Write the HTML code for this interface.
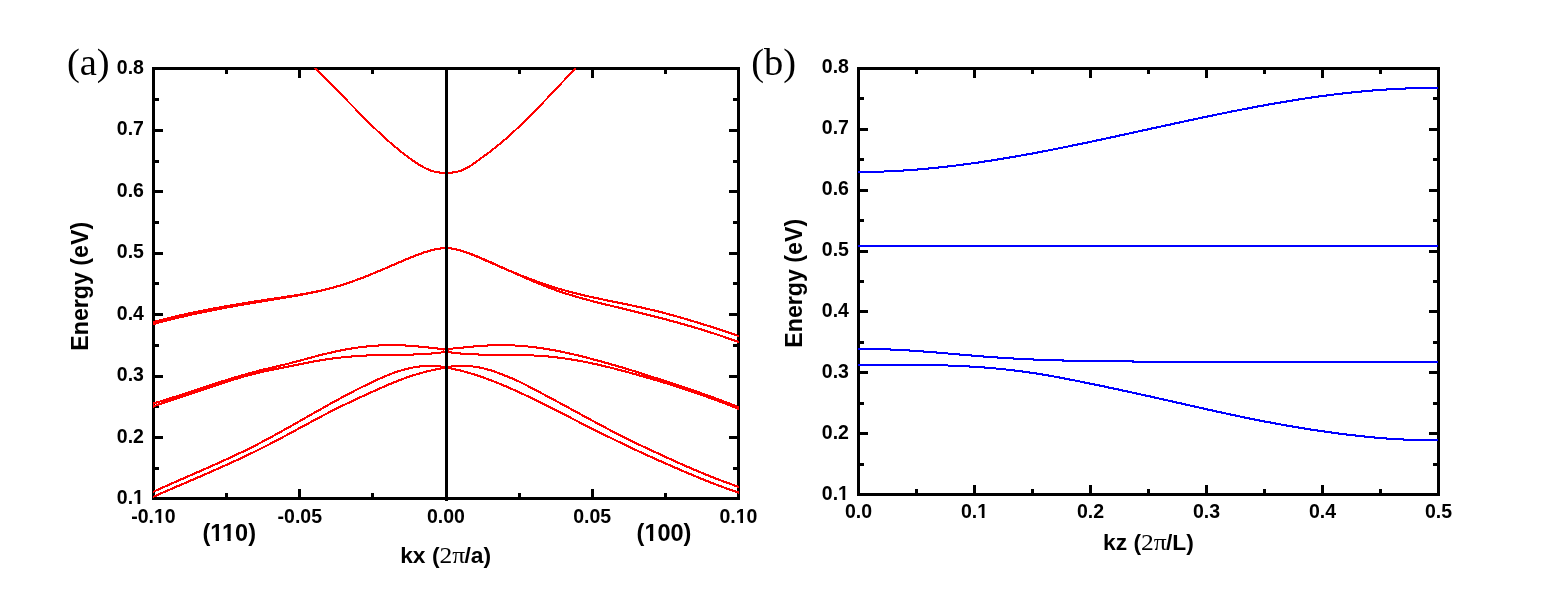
<!DOCTYPE html>
<html lang="en"><head><meta charset="utf-8"><title>Band structure</title>
<style>
html,body{margin:0;padding:0;background:#fff;}
body{width:1560px;height:601px;overflow:hidden;}
svg{display:block;}
.t{font-family:"Liberation Sans",sans-serif;font-weight:bold;fill:#000;}
.s{font-family:"Liberation Serif",serif;font-weight:normal;fill:#000;}
.tick{font-size:19.5px;}
.pl{font-size:38.5px;}
</style></head><body>
<svg width="1560" height="601" viewBox="0 0 1560 601">
<rect x="0" y="0" width="1560" height="601" fill="#ffffff"/>

<g id="axA" shape-rendering="crispEdges" fill="#000">
<rect x="152.0" y="67.0" width="588.0" height="3"/>
<rect x="152.0" y="497.0" width="588.0" height="3"/>
<rect x="152.0" y="67.0" width="3" height="433.0"/>
<rect x="737.0" y="67.0" width="3" height="433.0"/>
<rect x="298" y="70.0" width="3" height="8"/>
<rect x="298" y="489.0" width="3" height="8"/>
<rect x="445" y="70.0" width="3" height="8"/>
<rect x="445" y="489.0" width="3" height="8"/>
<rect x="591" y="70.0" width="3" height="8"/>
<rect x="591" y="489.0" width="3" height="8"/>
<rect x="225" y="70.0" width="3" height="4"/>
<rect x="225" y="493.0" width="3" height="4"/>
<rect x="371" y="70.0" width="3" height="4"/>
<rect x="371" y="493.0" width="3" height="4"/>
<rect x="518" y="70.0" width="3" height="4"/>
<rect x="518" y="493.0" width="3" height="4"/>
<rect x="664" y="70.0" width="3" height="4"/>
<rect x="664" y="493.0" width="3" height="4"/>
<rect x="155.0" y="98" width="4" height="3"/>
<rect x="733.0" y="98" width="4" height="3"/>
<rect x="155.0" y="129" width="8" height="3"/>
<rect x="729.0" y="129" width="8" height="3"/>
<rect x="155.0" y="160" width="4" height="3"/>
<rect x="733.0" y="160" width="4" height="3"/>
<rect x="155.0" y="190" width="8" height="3"/>
<rect x="729.0" y="190" width="8" height="3"/>
<rect x="155.0" y="221" width="4" height="3"/>
<rect x="733.0" y="221" width="4" height="3"/>
<rect x="155.0" y="252" width="8" height="3"/>
<rect x="729.0" y="252" width="8" height="3"/>
<rect x="155.0" y="282" width="4" height="3"/>
<rect x="733.0" y="282" width="4" height="3"/>
<rect x="155.0" y="313" width="8" height="3"/>
<rect x="729.0" y="313" width="8" height="3"/>
<rect x="155.0" y="344" width="4" height="3"/>
<rect x="733.0" y="344" width="4" height="3"/>
<rect x="155.0" y="375" width="8" height="3"/>
<rect x="729.0" y="375" width="8" height="3"/>
<rect x="155.0" y="405" width="4" height="3"/>
<rect x="733.0" y="405" width="4" height="3"/>
<rect x="155.0" y="436" width="8" height="3"/>
<rect x="729.0" y="436" width="8" height="3"/>
<rect x="155.0" y="467" width="4" height="3"/>
<rect x="733.0" y="467" width="4" height="3"/>
</g>
<clipPath id="clipA"><rect x="153" y="68" width="586" height="431"/></clipPath>
<g id="curvesA" clip-path="url(#clipA)" fill="#ff0000" stroke="none" shape-rendering="crispEdges">
<polygon points="310.0,61.72 313.0,64.62 315.0,66.55 317.0,68.50 319.0,70.47 321.0,72.45 323.0,74.45 325.0,76.46 327.0,78.48 329.0,80.51 331.0,82.55 333.0,84.59 335.0,86.65 337.0,88.71 339.0,90.77 341.1,92.84 343.1,94.91 345.1,96.98 347.1,99.04 349.1,101.11 351.1,103.18 353.1,105.24 355.1,107.29 357.1,109.34 359.1,111.38 361.1,113.41 363.1,115.44 365.1,117.45 367.1,119.45 369.1,121.43 371.1,123.41 373.1,125.36 375.1,127.30 377.1,129.22 379.1,131.12 381.1,133.00 383.1,134.86 385.1,136.70 387.1,138.51 389.1,140.30 391.1,142.07 393.2,143.81 395.2,145.52 397.2,147.21 399.2,148.86 401.2,150.49 403.2,152.08 405.2,153.64 407.2,155.17 409.2,156.66 411.2,158.12 413.2,159.54 415.2,160.92 417.2,162.25 419.2,163.52 421.2,164.73 423.2,165.88 425.2,166.95 427.2,167.93 429.2,168.81 431.2,169.57 433.2,170.20 435.2,170.71 437.2,171.11 439.2,171.41 441.2,171.62 443.2,171.75 445.2,171.82 447.3,171.81 449.3,171.72 451.3,171.57 453.3,171.33 455.3,171.00 457.3,170.57 459.3,170.02 461.3,169.35 463.3,168.55 465.3,167.60 467.3,166.51 469.3,165.30 471.3,164.00 473.3,162.62 475.3,161.18 477.3,159.72 479.3,158.25 481.3,156.79 483.3,155.34 485.3,153.88 487.3,152.41 489.3,150.91 491.3,149.38 493.3,147.82 495.3,146.22 497.3,144.59 499.4,142.94 501.4,141.25 503.4,139.54 505.4,137.80 507.4,136.04 509.4,134.25 511.4,132.43 513.4,130.60 515.4,128.74 517.4,126.85 519.4,124.95 521.4,123.03 523.4,121.09 525.4,119.13 527.4,117.15 529.4,115.16 531.4,113.15 533.4,111.12 535.4,109.09 537.4,107.03 539.4,104.97 541.4,102.90 543.4,100.81 545.4,98.72 547.4,96.61 549.4,94.50 551.5,92.38 553.5,90.26 555.5,88.13 557.5,85.99 559.5,83.85 561.5,81.71 563.5,79.57 565.5,77.42 567.5,75.28 569.5,73.14 571.5,70.99 573.5,68.85 575.5,66.72 577.5,64.58 580.5,61.39 580.5,64.24 577.5,67.44 575.5,69.57 573.5,71.71 571.5,73.85 569.5,75.99 567.5,78.14 565.5,80.28 563.5,82.42 561.5,84.57 559.5,86.71 557.5,88.84 555.5,90.98 553.5,93.11 551.5,95.23 549.4,97.34 547.4,99.45 545.4,101.55 543.4,103.64 541.4,105.73 539.4,107.80 537.4,109.85 535.4,111.90 533.4,113.93 531.4,115.95 529.4,117.95 527.4,119.94 525.4,121.91 523.4,123.86 521.4,125.80 519.4,127.71 517.4,129.61 515.4,131.48 513.4,133.33 511.4,135.16 509.4,136.96 507.4,138.74 505.4,140.50 503.4,142.23 501.4,143.93 499.4,145.60 497.3,147.25 495.3,148.86 493.3,150.44 491.3,152.00 489.3,153.52 487.3,155.00 485.3,156.47 483.3,157.92 481.3,159.37 479.3,160.83 477.3,162.30 475.3,163.76 473.3,165.17 471.3,166.53 469.3,167.80 467.3,168.96 465.3,170.00 463.3,170.89 461.3,171.64 459.3,172.26 457.3,172.76 455.3,173.15 453.3,173.44 451.3,173.64 449.3,173.77 447.3,173.82 445.2,173.83 443.2,173.79 441.2,173.68 439.2,173.50 437.2,173.24 435.2,172.88 433.2,172.41 431.2,171.83 429.2,171.13 427.2,170.29 425.2,169.35 423.2,168.31 421.2,167.20 419.2,166.01 417.2,164.76 415.2,163.45 413.2,162.10 411.2,160.70 409.2,159.25 407.2,157.77 405.2,156.26 403.2,154.71 401.2,153.13 399.2,151.51 397.2,149.87 395.2,148.20 393.2,146.50 391.1,144.77 389.1,143.01 387.1,141.23 385.1,139.43 383.1,137.60 381.1,135.75 379.1,133.87 377.1,131.98 375.1,130.07 373.1,128.14 371.1,126.19 369.1,124.22 367.1,122.24 365.1,120.25 363.1,118.24 361.1,116.22 359.1,114.19 357.1,112.16 355.1,110.11 353.1,108.06 351.1,106.00 349.1,103.94 347.1,101.87 345.1,99.80 343.1,97.73 341.1,95.66 339.0,93.60 337.0,91.53 335.0,89.47 333.0,87.41 331.0,85.36 329.0,83.32 327.0,81.29 325.0,79.26 323.0,77.25 321.0,75.25 319.0,73.26 317.0,71.29 315.0,69.33 313.0,67.39 310.0,64.49"/>
<polygon points="150.5,321.69 153.5,320.89 155.5,320.36 157.5,319.83 159.5,319.32 161.5,318.80 163.5,318.30 165.5,317.80 167.5,317.30 169.5,316.82 171.5,316.34 173.5,315.86 175.5,315.39 177.5,314.92 179.5,314.46 181.5,314.01 183.6,313.56 185.6,313.12 187.6,312.68 189.6,312.25 191.6,311.82 193.6,311.40 195.6,310.98 197.6,310.57 199.6,310.16 201.6,309.75 203.6,309.35 205.6,308.96 207.6,308.57 209.6,308.18 211.6,307.80 213.6,307.42 215.6,307.05 217.6,306.68 219.6,306.31 221.6,305.95 223.6,305.59 225.6,305.23 227.6,304.88 229.6,304.53 231.6,304.18 233.6,303.84 235.6,303.50 237.6,303.16 239.6,302.83 241.7,302.50 243.7,302.17 245.7,301.85 247.7,301.52 249.7,301.20 251.7,300.89 253.7,300.57 255.7,300.26 257.7,299.95 259.7,299.64 261.7,299.33 263.7,299.03 265.7,298.72 267.7,298.42 269.7,298.12 271.7,297.82 273.7,297.52 275.7,297.23 277.7,296.93 279.7,296.64 281.7,296.34 283.7,296.04 285.7,295.74 287.7,295.43 289.7,295.12 291.7,294.81 293.7,294.49 295.7,294.17 297.7,293.84 299.8,293.51 301.8,293.17 303.8,292.82 305.8,292.46 307.8,292.09 309.8,291.71 311.8,291.33 313.8,290.93 315.8,290.52 317.8,290.10 319.8,289.66 321.8,289.22 323.8,288.76 325.8,288.28 327.8,287.79 329.8,287.28 331.8,286.76 333.8,286.22 335.8,285.66 337.8,285.09 339.8,284.49 341.8,283.88 343.8,283.25 345.8,282.60 347.8,281.93 349.8,281.25 351.8,280.54 353.8,279.83 355.8,279.10 357.8,278.35 359.9,277.60 361.9,276.83 363.9,276.05 365.9,275.26 367.9,274.45 369.9,273.64 371.9,272.82 373.9,272.00 375.9,271.16 377.9,270.32 379.9,269.48 381.9,268.62 383.9,267.77 385.9,266.91 387.9,266.05 389.9,265.19 391.9,264.33 393.9,263.46 395.9,262.60 397.9,261.74 399.9,260.88 401.9,260.02 403.9,259.17 405.9,258.32 407.9,257.48 409.9,256.65 411.9,255.84 413.9,255.04 415.9,254.26 418.0,253.50 420.0,252.77 422.0,252.07 424.0,251.40 426.0,250.77 428.0,250.17 430.0,249.62 432.0,249.10 434.0,248.63 436.0,248.22 438.0,247.85 440.0,247.54 442.0,247.28 444.0,247.09 446.0,246.95 449.0,246.74 449.0,248.80 446.0,249.01 444.0,249.16 442.0,249.38 440.0,249.65 438.0,249.99 436.0,250.38 434.0,250.82 432.0,251.30 430.0,251.83 428.0,252.41 426.0,253.02 424.0,253.67 422.0,254.35 420.0,255.06 418.0,255.80 415.9,256.57 413.9,257.35 411.9,258.16 409.9,258.98 407.9,259.81 405.9,260.66 403.9,261.51 401.9,262.36 399.9,263.22 397.9,264.08 395.9,264.94 393.9,265.81 391.9,266.67 389.9,267.53 387.9,268.40 385.9,269.25 383.9,270.11 381.9,270.96 379.9,271.81 377.9,272.66 375.9,273.50 373.9,274.33 371.9,275.15 369.9,275.97 367.9,276.77 365.9,277.57 363.9,278.36 361.9,279.14 359.9,279.90 357.8,280.65 355.8,281.39 353.8,282.12 351.8,282.83 349.8,283.52 347.8,284.20 345.8,284.86 343.8,285.50 341.8,286.13 339.8,286.73 337.8,287.32 335.8,287.89 333.8,288.44 331.8,288.97 329.8,289.49 327.8,289.99 325.8,290.47 323.8,290.94 321.8,291.40 319.8,291.84 317.8,292.27 315.8,292.68 313.8,293.09 311.8,293.48 309.8,293.87 307.8,294.24 305.8,294.60 303.8,294.96 301.8,295.30 299.8,295.64 297.7,295.97 295.7,296.30 293.7,296.62 291.7,296.94 289.7,297.25 287.7,297.55 285.7,297.86 283.7,298.16 281.7,298.46 279.7,298.75 277.7,299.05 275.7,299.35 273.7,299.64 271.7,299.94 269.7,300.24 267.7,300.54 265.7,300.84 263.7,301.15 261.7,301.45 259.7,301.76 257.7,302.07 255.7,302.38 253.7,302.70 251.7,303.01 249.7,303.33 247.7,303.65 245.7,303.98 243.7,304.30 241.7,304.63 239.6,304.96 237.6,305.30 235.6,305.64 233.6,305.98 231.6,306.32 229.6,306.67 227.6,307.02 225.6,307.37 223.6,307.73 221.6,308.09 219.6,308.45 217.6,308.82 215.6,309.20 213.6,309.57 211.6,309.95 209.6,310.34 207.6,310.72 205.6,311.12 203.6,311.51 201.6,311.91 199.6,312.32 197.6,312.73 195.6,313.15 193.6,313.57 191.6,313.99 189.6,314.42 187.6,314.86 185.6,315.30 183.6,315.74 181.5,316.19 179.5,316.65 177.5,317.11 175.5,317.58 173.5,318.05 171.5,318.53 169.5,319.01 167.5,319.50 165.5,320.00 163.5,320.50 161.5,321.01 159.5,321.52 157.5,322.04 155.5,322.57 153.5,323.10 150.5,323.90"/>
<polygon points="150.5,323.71 153.5,322.89 155.5,322.34 157.5,321.80 159.5,321.26 161.5,320.73 163.5,320.21 165.5,319.69 167.5,319.18 169.5,318.68 171.5,318.18 173.5,317.69 175.5,317.21 177.5,316.73 179.5,316.25 181.5,315.78 183.6,315.32 185.6,314.86 187.6,314.41 189.6,313.96 191.6,313.52 193.6,313.08 195.6,312.65 197.6,312.22 199.6,311.80 201.6,311.38 203.6,310.97 205.6,310.56 207.6,310.15 209.6,309.75 211.6,309.35 213.6,308.96 215.6,308.57 217.6,308.18 219.6,307.80 221.6,307.42 223.6,307.04 225.6,306.67 227.6,306.30 229.6,305.93 231.6,305.57 233.6,305.21 235.6,304.85 237.6,304.50 239.6,304.14 241.7,303.79 243.7,303.44 245.7,303.10 247.7,302.75 249.7,302.41 251.7,302.07 253.7,301.73 255.7,301.39 257.7,301.06 259.7,300.72 261.7,300.39 263.7,300.06 265.7,299.73 267.7,299.40 269.7,299.07 271.7,298.74 273.7,298.42 275.7,298.09 277.7,297.76 279.7,297.43 281.7,297.10 283.7,296.77 285.7,296.44 287.7,296.10 289.7,295.76 291.7,295.41 293.7,295.06 295.7,294.71 297.7,294.35 299.8,293.98 301.8,293.61 303.8,293.22 305.8,292.83 307.8,292.44 309.8,292.03 311.8,291.61 313.8,291.19 315.8,290.75 317.8,290.30 319.8,289.84 321.8,289.37 323.8,288.89 325.8,288.39 327.8,287.88 329.8,287.35 331.8,286.81 333.8,286.26 335.8,285.69 337.8,285.10 339.8,284.49 341.8,283.87 343.8,283.23 345.8,282.58 347.8,281.90 349.8,281.22 351.8,280.52 353.8,279.80 355.8,279.07 357.8,278.33 359.9,277.58 361.9,276.81 363.9,276.04 365.9,275.25 367.9,274.45 369.9,273.65 371.9,272.84 373.9,272.01 375.9,271.19 377.9,270.35 379.9,269.51 381.9,268.67 383.9,267.82 385.9,266.96 387.9,266.11 389.9,265.25 391.9,264.38 393.9,263.52 395.9,262.66 397.9,261.79 399.9,260.93 401.9,260.07 403.9,259.20 405.9,258.35 407.9,257.50 409.9,256.66 411.9,255.83 413.9,255.02 415.9,254.23 418.0,253.46 420.0,252.72 422.0,252.01 424.0,251.33 426.0,250.69 428.0,250.09 430.0,249.53 432.0,249.02 434.0,248.55 436.0,248.14 438.0,247.78 440.0,247.48 442.0,247.24 444.0,247.07 446.0,246.96 449.0,246.79 449.0,248.84 446.0,249.01 444.0,249.13 442.0,249.33 440.0,249.59 438.0,249.92 436.0,250.30 434.0,250.73 432.0,251.22 430.0,251.75 428.0,252.33 426.0,252.94 424.0,253.60 422.0,254.29 420.0,255.02 418.0,255.77 415.9,256.54 413.9,257.34 411.9,258.16 409.9,258.99 407.9,259.84 405.9,260.69 403.9,261.55 401.9,262.41 399.9,263.27 397.9,264.14 395.9,265.00 393.9,265.87 391.9,266.73 389.9,267.59 387.9,268.45 385.9,269.30 383.9,270.16 381.9,271.00 379.9,271.85 377.9,272.69 375.9,273.52 373.9,274.34 371.9,275.16 369.9,275.97 367.9,276.77 365.9,277.56 363.9,278.35 361.9,279.12 359.9,279.88 357.8,280.63 355.8,281.36 353.8,282.09 351.8,282.80 349.8,283.49 347.8,284.17 345.8,284.84 343.8,285.49 341.8,286.12 339.8,286.74 337.8,287.33 335.8,287.92 333.8,288.48 331.8,289.03 329.8,289.56 327.8,290.08 325.8,290.59 323.8,291.08 321.8,291.56 319.8,292.03 317.8,292.48 315.8,292.93 313.8,293.36 311.8,293.78 309.8,294.19 307.8,294.60 305.8,294.99 303.8,295.38 301.8,295.76 299.8,296.13 297.7,296.49 295.7,296.85 293.7,297.20 291.7,297.55 289.7,297.90 287.7,298.24 285.7,298.57 283.7,298.91 281.7,299.24 279.7,299.57 277.7,299.89 275.7,300.22 273.7,300.55 271.7,300.88 269.7,301.20 267.7,301.53 265.7,301.86 263.7,302.19 261.7,302.52 259.7,302.86 257.7,303.19 255.7,303.53 253.7,303.87 251.7,304.21 249.7,304.55 247.7,304.89 245.7,305.24 243.7,305.58 241.7,305.93 239.6,306.28 237.6,306.64 235.6,306.99 233.6,307.35 231.6,307.72 229.6,308.08 227.6,308.45 225.6,308.82 223.6,309.19 221.6,309.57 219.6,309.95 217.6,310.34 215.6,310.72 213.6,311.12 211.6,311.51 209.6,311.91 207.6,312.31 205.6,312.72 203.6,313.13 201.6,313.55 199.6,313.97 197.6,314.39 195.6,314.82 193.6,315.26 191.6,315.70 189.6,316.14 187.6,316.59 185.6,317.05 183.6,317.51 181.5,317.97 179.5,318.44 177.5,318.92 175.5,319.40 173.5,319.89 171.5,320.38 169.5,320.88 167.5,321.39 165.5,321.90 163.5,322.42 161.5,322.94 159.5,323.47 157.5,324.01 155.5,324.56 153.5,325.11 150.5,325.93"/>
<polygon points="443.0,246.84 446.0,246.97 448.0,247.04 450.0,247.20 452.0,247.45 454.0,247.77 456.0,248.17 458.0,248.63 460.0,249.16 462.0,249.75 464.0,250.39 466.0,251.08 468.0,251.82 470.0,252.58 472.0,253.39 474.0,254.21 476.1,255.06 478.1,255.93 480.1,256.80 482.1,257.68 484.1,258.56 486.1,259.45 488.1,260.32 490.1,261.20 492.1,262.08 494.1,262.95 496.1,263.83 498.1,264.70 500.1,265.56 502.1,266.42 504.1,267.28 506.1,268.13 508.1,268.98 510.1,269.83 512.1,270.66 514.1,271.50 516.1,272.32 518.1,273.14 520.1,273.95 522.1,274.75 524.1,275.55 526.1,276.34 528.1,277.11 530.1,277.88 532.1,278.64 534.2,279.39 536.2,280.13 538.2,280.86 540.2,281.58 542.2,282.28 544.2,282.98 546.2,283.66 548.2,284.33 550.2,284.98 552.2,285.62 554.2,286.25 556.2,286.87 558.2,287.47 560.2,288.06 562.2,288.63 564.2,289.20 566.2,289.75 568.2,290.30 570.2,290.83 572.2,291.35 574.2,291.86 576.2,292.37 578.2,292.86 580.2,293.35 582.2,293.82 584.2,294.29 586.2,294.76 588.2,295.22 590.2,295.67 592.2,296.11 594.3,296.55 596.3,296.99 598.3,297.42 600.3,297.84 602.3,298.27 604.3,298.69 606.3,299.10 608.3,299.52 610.3,299.93 612.3,300.34 614.3,300.76 616.3,301.17 618.3,301.58 620.3,301.99 622.3,302.40 624.3,302.81 626.3,303.23 628.3,303.64 630.3,304.06 632.3,304.49 634.3,304.91 636.3,305.34 638.3,305.77 640.3,306.21 642.3,306.66 644.3,307.11 646.3,307.56 648.3,308.02 650.3,308.49 652.4,308.97 654.4,309.45 656.4,309.94 658.4,310.44 660.4,310.94 662.4,311.45 664.4,311.97 666.4,312.50 668.4,313.03 670.4,313.56 672.4,314.11 674.4,314.66 676.4,315.21 678.4,315.77 680.4,316.34 682.4,316.92 684.4,317.49 686.4,318.08 688.4,318.67 690.4,319.26 692.4,319.86 694.4,320.47 696.4,321.08 698.4,321.69 700.4,322.31 702.4,322.94 704.4,323.57 706.4,324.20 708.4,324.84 710.5,325.48 712.5,326.13 714.5,326.78 716.5,327.43 718.5,328.09 720.5,328.75 722.5,329.42 724.5,330.09 726.5,330.76 728.5,331.44 730.5,332.11 732.5,332.80 734.5,333.48 736.5,334.17 738.5,334.86 741.5,335.89 741.5,338.17 738.5,337.13 736.5,336.44 734.5,335.75 732.5,335.07 730.5,334.39 728.5,333.71 726.5,333.03 724.5,332.36 722.5,331.69 720.5,331.02 718.5,330.36 716.5,329.70 714.5,329.04 712.5,328.39 710.5,327.74 708.4,327.10 706.4,326.46 704.4,325.82 702.4,325.19 700.4,324.56 698.4,323.94 696.4,323.32 694.4,322.71 692.4,322.10 690.4,321.50 688.4,320.91 686.4,320.31 684.4,319.73 682.4,319.15 680.4,318.57 678.4,318.00 676.4,317.44 674.4,316.88 672.4,316.33 670.4,315.78 668.4,315.24 666.4,314.71 664.4,314.18 662.4,313.66 660.4,313.15 658.4,312.64 656.4,312.14 654.4,311.65 652.4,311.16 650.3,310.68 648.3,310.21 646.3,309.74 644.3,309.29 642.3,308.84 640.3,308.39 638.3,307.95 636.3,307.51 634.3,307.08 632.3,306.65 630.3,306.23 628.3,305.81 626.3,305.39 624.3,304.98 622.3,304.56 620.3,304.15 618.3,303.74 616.3,303.33 614.3,302.92 612.3,302.51 610.3,302.10 608.3,301.68 606.3,301.27 604.3,300.85 602.3,300.44 600.3,300.01 598.3,299.59 596.3,299.16 594.3,298.73 592.2,298.29 590.2,297.84 588.2,297.40 586.2,296.94 584.2,296.48 582.2,296.01 580.2,295.54 578.2,295.05 576.2,294.56 574.2,294.06 572.2,293.56 570.2,293.04 568.2,292.51 566.2,291.97 564.2,291.42 562.2,290.86 560.2,290.29 558.2,289.71 556.2,289.11 554.2,288.50 552.2,287.88 550.2,287.24 548.2,286.59 546.2,285.93 544.2,285.25 542.2,284.56 540.2,283.86 538.2,283.15 536.2,282.42 534.2,281.69 532.1,280.94 530.1,280.19 528.1,279.42 526.1,278.65 524.1,277.86 522.1,277.07 520.1,276.27 518.1,275.46 516.1,274.65 514.1,273.83 512.1,273.00 510.1,272.16 508.1,271.32 506.1,270.47 504.1,269.62 502.1,268.77 500.1,267.91 498.1,267.04 496.1,266.17 494.1,265.30 492.1,264.43 490.1,263.55 488.1,262.68 486.1,261.80 484.1,260.92 482.1,260.04 480.1,259.15 478.1,258.28 476.1,257.41 474.0,256.55 472.0,255.71 470.0,254.90 468.0,254.12 466.0,253.37 464.0,252.66 462.0,252.00 460.0,251.39 458.0,250.84 456.0,250.34 454.0,249.92 452.0,249.56 450.0,249.29 448.0,249.10 446.0,249.00 443.0,248.87"/>
<polygon points="443.0,246.75 446.0,246.96 448.0,247.09 450.0,247.28 452.0,247.55 454.0,247.88 456.0,248.28 458.0,248.73 460.0,249.24 462.0,249.80 464.0,250.41 466.0,251.06 468.0,251.75 470.0,252.47 472.0,253.23 474.0,254.01 476.1,254.82 478.1,255.65 480.1,256.49 482.1,257.35 484.1,258.21 486.1,259.08 488.1,259.96 490.1,260.85 492.1,261.74 494.1,262.63 496.1,263.53 498.1,264.43 500.1,265.34 502.1,266.24 504.1,267.15 506.1,268.06 508.1,268.97 510.1,269.88 512.1,270.79 514.1,271.69 516.1,272.60 518.1,273.50 520.1,274.39 522.1,275.29 524.1,276.17 526.1,277.05 528.1,277.93 530.1,278.80 532.1,279.66 534.2,280.51 536.2,281.35 538.2,282.18 540.2,283.00 542.2,283.81 544.2,284.61 546.2,285.40 548.2,286.17 550.2,286.93 552.2,287.68 554.2,288.41 556.2,289.12 558.2,289.82 560.2,290.51 562.2,291.19 564.2,291.85 566.2,292.49 568.2,293.13 570.2,293.75 572.2,294.37 574.2,294.97 576.2,295.56 578.2,296.15 580.2,296.72 582.2,297.28 584.2,297.84 586.2,298.39 588.2,298.93 590.2,299.46 592.2,299.99 594.3,300.51 596.3,301.02 598.3,301.53 600.3,302.04 602.3,302.54 604.3,303.03 606.3,303.53 608.3,304.02 610.3,304.50 612.3,304.99 614.3,305.47 616.3,305.95 618.3,306.43 620.3,306.92 622.3,307.40 624.3,307.88 626.3,308.36 628.3,308.85 630.3,309.33 632.3,309.82 634.3,310.31 636.3,310.80 638.3,311.29 640.3,311.79 642.3,312.28 644.3,312.78 646.3,313.28 648.3,313.79 650.3,314.29 652.4,314.80 654.4,315.32 656.4,315.83 658.4,316.35 660.4,316.87 662.4,317.40 664.4,317.92 666.4,318.46 668.4,318.99 670.4,319.53 672.4,320.07 674.4,320.62 676.4,321.17 678.4,321.72 680.4,322.28 682.4,322.85 684.4,323.41 686.4,323.99 688.4,324.56 690.4,325.15 692.4,325.73 694.4,326.33 696.4,326.92 698.4,327.53 700.4,328.13 702.4,328.75 704.4,329.37 706.4,329.99 708.4,330.62 710.5,331.26 712.5,331.90 714.5,332.55 716.5,333.20 718.5,333.86 720.5,334.53 722.5,335.21 724.5,335.89 726.5,336.57 728.5,337.27 730.5,337.97 732.5,338.68 734.5,339.40 736.5,340.12 738.5,340.85 741.5,341.95 741.5,344.24 738.5,343.14 736.5,342.41 734.5,341.68 732.5,340.97 730.5,340.25 728.5,339.55 726.5,338.85 724.5,338.16 722.5,337.48 720.5,336.80 718.5,336.13 716.5,335.47 714.5,334.81 712.5,334.16 710.5,333.51 708.4,332.87 706.4,332.24 704.4,331.61 702.4,330.99 700.4,330.38 698.4,329.77 696.4,329.16 694.4,328.56 692.4,327.97 690.4,327.38 688.4,326.80 686.4,326.22 684.4,325.64 682.4,325.07 680.4,324.51 678.4,323.95 676.4,323.39 674.4,322.84 672.4,322.29 670.4,321.75 668.4,321.21 666.4,320.67 664.4,320.14 662.4,319.61 660.4,319.08 658.4,318.56 656.4,318.04 654.4,317.52 652.4,317.01 650.3,316.50 648.3,315.99 646.3,315.48 644.3,314.98 642.3,314.48 640.3,313.98 638.3,313.49 636.3,312.99 634.3,312.50 632.3,312.01 630.3,311.53 628.3,311.04 626.3,310.55 624.3,310.07 622.3,309.59 620.3,309.11 618.3,308.63 616.3,308.15 614.3,307.66 612.3,307.18 610.3,306.70 608.3,306.21 606.3,305.72 604.3,305.23 602.3,304.74 600.3,304.24 598.3,303.73 596.3,303.23 594.3,302.71 592.2,302.20 590.2,301.67 588.2,301.14 586.2,300.60 584.2,300.06 582.2,299.51 580.2,298.95 578.2,298.38 576.2,297.80 574.2,297.21 572.2,296.61 570.2,296.00 568.2,295.38 566.2,294.75 564.2,294.11 562.2,293.45 560.2,292.78 558.2,292.10 556.2,291.40 554.2,290.70 552.2,289.97 550.2,289.23 548.2,288.48 546.2,287.71 544.2,286.93 542.2,286.14 540.2,285.33 538.2,284.51 536.2,283.68 534.2,282.85 532.1,282.00 530.1,281.14 528.1,280.28 526.1,279.40 524.1,278.53 522.1,277.64 520.1,276.75 518.1,275.86 516.1,274.96 514.1,274.06 512.1,273.15 510.1,272.24 508.1,271.33 506.1,270.42 504.1,269.51 502.1,268.61 500.1,267.70 498.1,266.79 496.1,265.89 494.1,264.99 492.1,264.09 490.1,263.20 488.1,262.31 486.1,261.43 484.1,260.56 482.1,259.69 480.1,258.83 478.1,257.98 476.1,257.15 474.0,256.33 472.0,255.54 470.0,254.77 468.0,254.03 466.0,253.33 464.0,252.66 462.0,252.04 460.0,251.46 458.0,250.93 456.0,250.45 454.0,250.03 452.0,249.67 450.0,249.38 448.0,249.16 446.0,249.01 443.0,248.81"/>
<polygon points="150.5,403.16 153.5,402.29 155.5,401.71 157.5,401.12 159.5,400.52 161.5,399.92 163.5,399.31 165.5,398.69 167.5,398.07 169.5,397.45 171.5,396.82 173.5,396.18 175.5,395.54 177.5,394.90 179.5,394.25 181.5,393.60 183.6,392.95 185.6,392.30 187.6,391.64 189.6,390.98 191.6,390.32 193.6,389.66 195.6,388.99 197.6,388.33 199.6,387.67 201.6,387.01 203.6,386.34 205.6,385.68 207.6,385.02 209.6,384.37 211.6,383.71 213.6,383.06 215.6,382.40 217.6,381.76 219.6,381.11 221.6,380.47 223.6,379.83 225.6,379.20 227.6,378.57 229.6,377.95 231.6,377.33 233.6,376.72 235.6,376.11 237.6,375.51 239.6,374.92 241.7,374.33 243.7,373.76 245.7,373.18 247.7,372.62 249.7,372.07 251.7,371.52 253.7,370.99 255.7,370.46 257.7,369.94 259.7,369.44 261.7,368.94 263.7,368.45 265.7,367.97 267.7,367.49 269.7,367.02 271.7,366.55 273.7,366.08 275.7,365.61 277.7,365.14 279.7,364.67 281.7,364.20 283.7,363.72 285.7,363.23 287.7,362.73 289.7,362.23 291.7,361.71 293.7,361.18 295.7,360.64 297.7,360.10 299.8,359.54 301.8,358.99 303.8,358.43 305.8,357.87 307.8,357.32 309.8,356.78 311.8,356.24 313.8,355.71 315.8,355.19 317.8,354.67 319.8,354.17 321.8,353.67 323.8,353.17 325.8,352.69 327.8,352.22 329.8,351.75 331.8,351.30 333.8,350.85 335.8,350.42 337.8,349.99 339.8,349.58 341.8,349.18 343.8,348.79 345.8,348.42 347.8,348.06 349.8,347.71 351.8,347.38 353.8,347.06 355.8,346.76 357.8,346.47 359.9,346.20 361.9,345.94 363.9,345.70 365.9,345.48 367.9,345.28 369.9,345.09 371.9,344.92 373.9,344.77 375.9,344.64 377.9,344.52 379.9,344.42 381.9,344.34 383.9,344.27 385.9,344.22 387.9,344.18 389.9,344.17 391.9,344.16 393.9,344.17 395.9,344.19 397.9,344.23 399.9,344.28 401.9,344.34 403.9,344.43 405.9,344.52 407.9,344.63 409.9,344.75 411.9,344.89 413.9,345.04 415.9,345.21 418.0,345.39 420.0,345.58 422.0,345.78 424.0,345.99 426.0,346.21 428.0,346.43 430.0,346.65 432.0,346.87 434.0,347.08 436.0,347.28 438.0,347.47 440.0,347.65 442.0,347.81 444.0,347.94 446.0,348.05 449.0,348.21 449.0,350.26 446.0,350.09 444.0,349.99 442.0,349.86 440.0,349.71 438.0,349.55 436.0,349.36 434.0,349.16 432.0,348.96 430.0,348.74 428.0,348.52 426.0,348.30 424.0,348.08 422.0,347.87 420.0,347.66 418.0,347.46 415.9,347.28 413.9,347.11 411.9,346.95 409.9,346.81 407.9,346.68 405.9,346.56 403.9,346.46 401.9,346.37 399.9,346.30 397.9,346.24 395.9,346.20 393.9,346.17 391.9,346.16 389.9,346.17 387.9,346.20 385.9,346.24 383.9,346.30 381.9,346.37 379.9,346.46 377.9,346.57 375.9,346.69 373.9,346.83 371.9,346.99 369.9,347.16 367.9,347.36 365.9,347.57 363.9,347.79 361.9,348.04 359.9,348.30 357.8,348.58 355.8,348.87 353.8,349.18 351.8,349.51 349.8,349.85 347.8,350.20 345.8,350.57 343.8,350.95 341.8,351.34 339.8,351.74 337.8,352.16 335.8,352.59 333.8,353.03 331.8,353.48 329.8,353.94 327.8,354.40 325.8,354.88 323.8,355.37 321.8,355.86 319.8,356.37 317.8,356.88 315.8,357.40 313.8,357.92 311.8,358.46 309.8,359.00 307.8,359.54 305.8,360.09 303.8,360.65 301.8,361.21 299.8,361.76 297.7,362.32 295.7,362.86 293.7,363.40 291.7,363.92 289.7,364.43 287.7,364.93 285.7,365.42 283.7,365.91 281.7,366.39 279.7,366.86 277.7,367.33 275.7,367.80 273.7,368.27 271.7,368.74 269.7,369.21 267.7,369.68 265.7,370.16 263.7,370.64 261.7,371.14 259.7,371.64 257.7,372.15 255.7,372.67 253.7,373.20 251.7,373.74 249.7,374.29 247.7,374.85 245.7,375.41 243.7,375.99 241.7,376.57 239.6,377.16 237.6,377.75 235.6,378.35 233.6,378.96 231.6,379.58 229.6,380.20 227.6,380.82 225.6,381.45 223.6,382.09 221.6,382.73 219.6,383.37 217.6,384.01 215.6,384.66 213.6,385.32 211.6,385.97 209.6,386.63 207.6,387.29 205.6,387.95 203.6,388.61 201.6,389.27 199.6,389.93 197.6,390.60 195.6,391.26 193.6,391.92 191.6,392.58 189.6,393.24 187.6,393.90 185.6,394.56 183.6,395.21 181.5,395.86 179.5,396.51 177.5,397.16 175.5,397.80 173.5,398.44 171.5,399.07 169.5,399.70 167.5,400.32 165.5,400.94 163.5,401.55 161.5,402.16 159.5,402.76 157.5,403.35 155.5,403.94 153.5,404.52 150.5,405.39"/>
<polygon points="150.5,406.37 153.5,405.25 155.5,404.50 157.5,403.77 159.5,403.05 161.5,402.35 163.5,401.65 165.5,400.96 167.5,400.28 169.5,399.61 171.5,398.95 173.5,398.29 175.5,397.63 177.5,396.98 179.5,396.34 181.5,395.69 183.6,395.04 185.6,394.40 187.6,393.75 189.6,393.10 191.6,392.45 193.6,391.79 195.6,391.13 197.6,390.47 199.6,389.80 201.6,389.13 203.6,388.46 205.6,387.78 207.6,387.10 209.6,386.43 211.6,385.75 213.6,385.08 215.6,384.40 217.6,383.73 219.6,383.07 221.6,382.40 223.6,381.74 225.6,381.09 227.6,380.44 229.6,379.79 231.6,379.15 233.6,378.53 235.6,377.90 237.6,377.29 239.6,376.69 241.7,376.09 243.7,375.51 245.7,374.94 247.7,374.38 249.7,373.83 251.7,373.30 253.7,372.78 255.7,372.27 257.7,371.78 259.7,371.31 261.7,370.85 263.7,370.40 265.7,369.97 267.7,369.55 269.7,369.14 271.7,368.73 273.7,368.33 275.7,367.94 277.7,367.55 279.7,367.17 281.7,366.78 283.7,366.40 285.7,366.01 287.7,365.62 289.7,365.23 291.7,364.83 293.7,364.43 295.7,364.02 297.7,363.62 299.8,363.21 301.8,362.80 303.8,362.40 305.8,362.00 307.8,361.60 309.8,361.21 311.8,360.83 313.8,360.45 315.8,360.09 317.8,359.73 319.8,359.39 321.8,359.05 323.8,358.73 325.8,358.42 327.8,358.13 329.8,357.84 331.8,357.57 333.8,357.31 335.8,357.06 337.8,356.82 339.8,356.59 341.8,356.37 343.8,356.16 345.8,355.96 347.8,355.77 349.8,355.60 351.8,355.43 353.8,355.27 355.8,355.12 357.8,354.98 359.9,354.85 361.9,354.73 363.9,354.62 365.9,354.52 367.9,354.43 369.9,354.34 371.9,354.26 373.9,354.19 375.9,354.13 377.9,354.08 379.9,354.03 381.9,353.99 383.9,353.96 385.9,353.93 387.9,353.90 389.9,353.88 391.9,353.85 393.9,353.83 395.9,353.81 397.9,353.79 399.9,353.77 401.9,353.74 403.9,353.71 405.9,353.68 407.9,353.64 409.9,353.59 411.9,353.54 413.9,353.48 415.9,353.41 418.0,353.33 420.0,353.25 422.0,353.14 424.0,353.03 426.0,352.91 428.0,352.77 430.0,352.61 432.0,352.44 434.0,352.25 436.0,352.05 438.0,351.82 440.0,351.58 442.0,351.32 444.0,351.03 446.0,350.73 449.0,350.27 449.0,352.40 446.0,352.85 444.0,353.15 442.0,353.42 440.0,353.68 438.0,353.92 436.0,354.13 434.0,354.33 432.0,354.51 430.0,354.67 428.0,354.82 426.0,354.96 424.0,355.08 422.0,355.19 420.0,355.28 418.0,355.37 415.9,355.44 413.9,355.51 411.9,355.56 409.9,355.61 407.9,355.66 405.9,355.69 403.9,355.72 401.9,355.75 399.9,355.78 397.9,355.80 395.9,355.82 393.9,355.84 391.9,355.86 389.9,355.89 387.9,355.91 385.9,355.94 383.9,355.97 381.9,356.01 379.9,356.05 377.9,356.10 375.9,356.16 373.9,356.22 371.9,356.29 369.9,356.37 367.9,356.46 365.9,356.56 363.9,356.67 361.9,356.78 359.9,356.91 357.8,357.04 355.8,357.18 353.8,357.33 351.8,357.49 349.8,357.67 347.8,357.85 345.8,358.04 343.8,358.24 341.8,358.45 339.8,358.68 337.8,358.91 335.8,359.15 333.8,359.41 331.8,359.68 329.8,359.95 327.8,360.24 325.8,360.55 323.8,360.86 321.8,361.19 319.8,361.52 317.8,361.87 315.8,362.23 313.8,362.60 311.8,362.98 309.8,363.37 307.8,363.76 305.8,364.16 303.8,364.56 301.8,364.97 299.8,365.37 297.7,365.78 295.7,366.19 293.7,366.59 291.7,366.99 289.7,367.39 287.7,367.78 285.7,368.17 283.7,368.55 281.7,368.94 279.7,369.32 277.7,369.71 275.7,370.10 273.7,370.49 271.7,370.89 269.7,371.30 267.7,371.72 265.7,372.14 263.7,372.58 261.7,373.03 259.7,373.50 257.7,373.98 255.7,374.47 253.7,374.98 251.7,375.51 249.7,376.05 247.7,376.60 245.7,377.17 243.7,377.74 241.7,378.33 239.6,378.93 237.6,379.53 235.6,380.15 233.6,380.78 231.6,381.41 229.6,382.05 227.6,382.69 225.6,383.35 223.6,384.00 221.6,384.67 219.6,385.33 217.6,386.00 215.6,386.67 213.6,387.35 211.6,388.02 209.6,388.70 207.6,389.37 205.6,390.05 203.6,390.73 201.6,391.40 199.6,392.07 197.6,392.74 195.6,393.40 193.6,394.06 191.6,394.71 189.6,395.36 187.6,396.01 185.6,396.66 183.6,397.30 181.5,397.95 179.5,398.59 177.5,399.24 175.5,399.90 173.5,400.55 171.5,401.21 169.5,401.88 167.5,402.55 165.5,403.24 163.5,403.93 161.5,404.63 159.5,405.34 157.5,406.06 155.5,406.80 153.5,407.55 150.5,408.67"/>
<polygon points="443.0,348.28 446.0,348.05 448.0,347.89 450.0,347.73 452.0,347.55 454.0,347.37 456.0,347.18 458.0,346.99 460.0,346.80 462.0,346.60 464.0,346.40 466.0,346.20 468.0,346.00 470.0,345.81 472.0,345.62 474.0,345.44 476.1,345.26 478.1,345.09 480.1,344.94 482.1,344.79 484.1,344.66 486.1,344.54 488.1,344.43 490.1,344.34 492.1,344.27 494.1,344.21 496.1,344.17 498.1,344.14 500.1,344.13 502.1,344.13 504.1,344.14 506.1,344.17 508.1,344.22 510.1,344.27 512.1,344.35 514.1,344.44 516.1,344.54 518.1,344.66 520.1,344.79 522.1,344.94 524.1,345.10 526.1,345.28 528.1,345.47 530.1,345.68 532.1,345.90 534.2,346.14 536.2,346.39 538.2,346.65 540.2,346.93 542.2,347.22 544.2,347.53 546.2,347.84 548.2,348.18 550.2,348.52 552.2,348.87 554.2,349.24 556.2,349.62 558.2,350.01 560.2,350.41 562.2,350.82 564.2,351.24 566.2,351.67 568.2,352.10 570.2,352.55 572.2,353.01 574.2,353.47 576.2,353.94 578.2,354.42 580.2,354.91 582.2,355.40 584.2,355.90 586.2,356.41 588.2,356.92 590.2,357.44 592.2,357.97 594.3,358.50 596.3,359.04 598.3,359.58 600.3,360.12 602.3,360.68 604.3,361.23 606.3,361.80 608.3,362.36 610.3,362.93 612.3,363.51 614.3,364.08 616.3,364.67 618.3,365.25 620.3,365.85 622.3,366.44 624.3,367.04 626.3,367.65 628.3,368.26 630.3,368.87 632.3,369.49 634.3,370.11 636.3,370.73 638.3,371.36 640.3,371.99 642.3,372.63 644.3,373.27 646.3,373.90 648.3,374.55 650.3,375.19 652.4,375.83 654.4,376.47 656.4,377.12 658.4,377.76 660.4,378.41 662.4,379.06 664.4,379.71 666.4,380.36 668.4,381.01 670.4,381.67 672.4,382.32 674.4,382.98 676.4,383.64 678.4,384.31 680.4,384.98 682.4,385.65 684.4,386.32 686.4,386.99 688.4,387.67 690.4,388.35 692.4,389.04 694.4,389.73 696.4,390.42 698.4,391.12 700.4,391.82 702.4,392.52 704.4,393.23 706.4,393.94 708.4,394.66 710.5,395.38 712.5,396.11 714.5,396.84 716.5,397.57 718.5,398.32 720.5,399.06 722.5,399.81 724.5,400.57 726.5,401.33 728.5,402.10 730.5,402.88 732.5,403.66 734.5,404.44 736.5,405.24 738.5,406.04 741.5,407.24 741.5,409.56 738.5,408.36 736.5,407.56 734.5,406.76 732.5,405.97 730.5,405.19 728.5,404.41 726.5,403.64 724.5,402.88 722.5,402.12 720.5,401.36 718.5,400.61 716.5,399.87 714.5,399.13 712.5,398.40 710.5,397.67 708.4,396.95 706.4,396.23 704.4,395.51 702.4,394.80 700.4,394.10 698.4,393.40 696.4,392.70 694.4,392.00 692.4,391.31 690.4,390.63 688.4,389.94 686.4,389.26 684.4,388.59 682.4,387.91 680.4,387.24 678.4,386.57 676.4,385.91 674.4,385.25 672.4,384.59 670.4,383.93 668.4,383.27 666.4,382.62 664.4,381.97 662.4,381.32 660.4,380.67 658.4,380.02 656.4,379.37 654.4,378.73 652.4,378.09 650.3,377.44 648.3,376.80 646.3,376.16 644.3,375.52 642.3,374.88 640.3,374.25 638.3,373.61 636.3,372.98 634.3,372.36 632.3,371.73 630.3,371.12 628.3,370.50 626.3,369.89 624.3,369.28 622.3,368.68 620.3,368.08 618.3,367.49 616.3,366.90 614.3,366.32 612.3,365.74 610.3,365.16 608.3,364.59 606.3,364.02 604.3,363.46 602.3,362.90 600.3,362.34 598.3,361.80 596.3,361.25 594.3,360.71 592.2,360.18 590.2,359.65 588.2,359.13 586.2,358.61 584.2,358.11 582.2,357.60 580.2,357.11 578.2,356.62 576.2,356.13 574.2,355.66 572.2,355.19 570.2,354.73 568.2,354.28 566.2,353.84 564.2,353.41 562.2,352.98 560.2,352.57 558.2,352.17 556.2,351.77 554.2,351.39 552.2,351.02 550.2,350.66 548.2,350.31 546.2,349.97 544.2,349.65 542.2,349.34 540.2,349.04 538.2,348.76 536.2,348.49 534.2,348.24 532.1,347.99 530.1,347.77 528.1,347.56 526.1,347.36 524.1,347.17 522.1,347.00 520.1,346.85 518.1,346.71 516.1,346.59 514.1,346.48 512.1,346.38 510.1,346.30 508.1,346.24 506.1,346.19 504.1,346.15 502.1,346.13 500.1,346.13 498.1,346.15 496.1,346.18 494.1,346.23 492.1,346.30 490.1,346.37 488.1,346.47 486.1,346.58 484.1,346.71 482.1,346.85 480.1,347.00 478.1,347.16 476.1,347.33 474.0,347.51 472.0,347.70 470.0,347.89 468.0,348.08 466.0,348.28 464.0,348.48 462.0,348.68 460.0,348.87 458.0,349.07 456.0,349.26 454.0,349.45 452.0,349.62 450.0,349.79 448.0,349.96 446.0,350.11 443.0,350.34"/>
<polygon points="443.0,350.30 446.0,350.73 448.0,351.03 450.0,351.30 452.0,351.56 454.0,351.80 456.0,352.02 458.0,352.22 460.0,352.41 462.0,352.58 464.0,352.74 466.0,352.88 468.0,353.01 470.0,353.13 472.0,353.23 474.0,353.33 476.1,353.41 478.1,353.48 480.1,353.55 482.1,353.60 484.1,353.65 486.1,353.69 488.1,353.73 490.1,353.76 492.1,353.78 494.1,353.80 496.1,353.82 498.1,353.84 500.1,353.85 502.1,353.86 504.1,353.87 506.1,353.89 508.1,353.90 510.1,353.91 512.1,353.93 514.1,353.95 516.1,353.98 518.1,354.01 520.1,354.04 522.1,354.08 524.1,354.13 526.1,354.18 528.1,354.25 530.1,354.32 532.1,354.40 534.2,354.49 536.2,354.60 538.2,354.71 540.2,354.84 542.2,354.98 544.2,355.14 546.2,355.30 548.2,355.48 550.2,355.67 552.2,355.87 554.2,356.08 556.2,356.31 558.2,356.55 560.2,356.79 562.2,357.06 564.2,357.33 566.2,357.61 568.2,357.91 570.2,358.21 572.2,358.53 574.2,358.86 576.2,359.20 578.2,359.55 580.2,359.91 582.2,360.29 584.2,360.67 586.2,361.06 588.2,361.47 590.2,361.88 592.2,362.30 594.3,362.74 596.3,363.18 598.3,363.63 600.3,364.09 602.3,364.56 604.3,365.03 606.3,365.51 608.3,366.00 610.3,366.50 612.3,367.00 614.3,367.51 616.3,368.02 618.3,368.54 620.3,369.06 622.3,369.59 624.3,370.12 626.3,370.66 628.3,371.20 630.3,371.75 632.3,372.30 634.3,372.85 636.3,373.40 638.3,373.96 640.3,374.53 642.3,375.09 644.3,375.67 646.3,376.24 648.3,376.82 650.3,377.40 652.4,377.99 654.4,378.58 656.4,379.17 658.4,379.77 660.4,380.38 662.4,380.99 664.4,381.60 666.4,382.21 668.4,382.83 670.4,383.46 672.4,384.09 674.4,384.72 676.4,385.36 678.4,386.00 680.4,386.65 682.4,387.31 684.4,387.96 686.4,388.62 688.4,389.29 690.4,389.96 692.4,390.64 694.4,391.32 696.4,392.01 698.4,392.70 700.4,393.39 702.4,394.10 704.4,394.80 706.4,395.51 708.4,396.23 710.5,396.95 712.5,397.68 714.5,398.41 716.5,399.15 718.5,399.89 720.5,400.64 722.5,401.40 724.5,402.16 726.5,402.92 728.5,403.70 730.5,404.47 732.5,405.25 734.5,406.04 736.5,406.84 738.5,407.64 741.5,408.84 741.5,411.16 738.5,409.96 736.5,409.16 734.5,408.36 732.5,407.57 730.5,406.78 728.5,406.00 726.5,405.23 724.5,404.46 722.5,403.70 720.5,402.94 718.5,402.19 716.5,401.45 714.5,400.71 712.5,399.97 710.5,399.24 708.4,398.52 706.4,397.80 704.4,397.09 702.4,396.38 700.4,395.67 698.4,394.98 696.4,394.28 694.4,393.59 692.4,392.91 690.4,392.23 688.4,391.56 686.4,390.89 684.4,390.23 682.4,389.57 680.4,388.91 678.4,388.26 676.4,387.62 674.4,386.98 672.4,386.34 670.4,385.71 668.4,385.08 666.4,384.46 664.4,383.84 662.4,383.23 660.4,382.62 658.4,382.01 656.4,381.41 654.4,380.82 652.4,380.22 650.3,379.64 648.3,379.05 646.3,378.47 644.3,377.89 642.3,377.32 640.3,376.75 638.3,376.19 636.3,375.63 634.3,375.07 632.3,374.52 630.3,373.97 628.3,373.42 626.3,372.88 624.3,372.34 622.3,371.80 620.3,371.27 618.3,370.75 616.3,370.23 614.3,369.71 612.3,369.20 610.3,368.70 608.3,368.20 606.3,367.71 604.3,367.22 602.3,366.74 600.3,366.27 598.3,365.81 596.3,365.36 594.3,364.91 592.2,364.48 590.2,364.05 588.2,363.63 586.2,363.22 584.2,362.82 582.2,362.44 580.2,362.06 578.2,361.69 576.2,361.34 574.2,360.99 572.2,360.66 570.2,360.34 568.2,360.03 566.2,359.73 564.2,359.44 562.2,359.16 560.2,358.90 558.2,358.64 556.2,358.40 554.2,358.17 552.2,357.95 550.2,357.75 548.2,357.55 546.2,357.37 544.2,357.20 542.2,357.04 540.2,356.90 538.2,356.76 536.2,356.64 534.2,356.53 532.1,356.44 530.1,356.35 528.1,356.27 526.1,356.21 524.1,356.15 522.1,356.10 520.1,356.06 518.1,356.02 516.1,355.99 514.1,355.96 512.1,355.94 510.1,355.92 508.1,355.90 506.1,355.89 504.1,355.88 502.1,355.87 500.1,355.86 498.1,355.84 496.1,355.83 494.1,355.81 492.1,355.79 490.1,355.77 488.1,355.74 486.1,355.71 484.1,355.67 482.1,355.62 480.1,355.57 478.1,355.51 476.1,355.44 474.0,355.36 472.0,355.27 470.0,355.17 468.0,355.06 466.0,354.94 464.0,354.80 462.0,354.65 460.0,354.48 458.0,354.30 456.0,354.10 454.0,353.89 452.0,353.66 450.0,353.41 448.0,353.14 446.0,352.85 443.0,352.41"/>
<polygon points="150.5,491.89 153.5,490.52 155.5,489.59 157.5,488.68 159.5,487.77 161.5,486.86 163.5,485.96 165.5,485.07 167.5,484.17 169.5,483.28 171.5,482.39 173.5,481.51 175.5,480.63 177.5,479.75 179.5,478.87 181.5,477.99 183.6,477.12 185.6,476.25 187.6,475.37 189.6,474.50 191.6,473.63 193.6,472.76 195.6,471.88 197.6,471.01 199.6,470.13 201.6,469.26 203.6,468.38 205.6,467.50 207.6,466.62 209.6,465.73 211.6,464.85 213.6,463.96 215.6,463.06 217.6,462.17 219.6,461.27 221.6,460.36 223.6,459.45 225.6,458.54 227.6,457.62 229.6,456.69 231.6,455.76 233.6,454.83 235.6,453.88 237.6,452.93 239.6,451.98 241.7,451.01 243.7,450.04 245.7,449.06 247.7,448.08 249.7,447.08 251.7,446.08 253.7,445.07 255.7,444.04 257.7,443.01 259.7,441.97 261.7,440.92 263.7,439.87 265.7,438.80 267.7,437.73 269.7,436.65 271.7,435.56 273.7,434.47 275.7,433.37 277.7,432.27 279.7,431.16 281.7,430.05 283.7,428.93 285.7,427.81 287.7,426.68 289.7,425.55 291.7,424.42 293.7,423.28 295.7,422.15 297.7,421.01 299.8,419.87 301.8,418.73 303.8,417.59 305.8,416.44 307.8,415.30 309.8,414.16 311.8,413.02 313.8,411.88 315.8,410.75 317.8,409.61 319.8,408.48 321.8,407.35 323.8,406.22 325.8,405.10 327.8,403.98 329.8,402.87 331.8,401.76 333.8,400.65 335.8,399.56 337.8,398.46 339.8,397.38 341.8,396.30 343.8,395.22 345.8,394.15 347.8,393.09 349.8,392.04 351.8,391.00 353.8,389.96 355.8,388.94 357.8,387.92 359.9,386.91 361.9,385.91 363.9,384.92 365.9,383.93 367.9,382.96 369.9,382.00 371.9,381.05 373.9,380.12 375.9,379.19 377.9,378.27 379.9,377.37 381.9,376.49 383.9,375.63 385.9,374.79 387.9,373.98 389.9,373.19 391.9,372.43 393.9,371.71 395.9,371.01 397.9,370.34 399.9,369.71 401.9,369.10 403.9,368.54 405.9,368.01 407.9,367.51 409.9,367.05 411.9,366.64 413.9,366.26 415.9,365.92 418.0,365.62 420.0,365.37 422.0,365.16 424.0,365.00 426.0,364.88 428.0,364.81 430.0,364.79 432.0,364.80 434.0,364.86 436.0,364.97 438.0,365.13 440.0,365.35 442.0,365.62 444.0,365.94 446.0,366.33 449.0,366.92 449.0,369.07 446.0,368.49 444.0,368.09 442.0,367.74 440.0,367.45 438.0,367.21 436.0,367.03 434.0,366.90 432.0,366.82 430.0,366.79 428.0,366.83 426.0,366.92 424.0,367.06 422.0,367.24 420.0,367.47 418.0,367.74 415.9,368.05 413.9,368.40 411.9,368.80 409.9,369.23 407.9,369.70 405.9,370.21 403.9,370.76 401.9,371.34 399.9,371.95 397.9,372.60 395.9,373.28 393.9,373.99 391.9,374.73 389.9,375.50 387.9,376.30 385.9,377.12 383.9,377.97 381.9,378.84 379.9,379.73 377.9,380.64 375.9,381.56 373.9,382.49 371.9,383.43 369.9,384.39 367.9,385.35 365.9,386.33 363.9,387.31 361.9,388.30 359.9,389.31 357.8,390.32 355.8,391.34 353.8,392.38 351.8,393.41 349.8,394.46 347.8,395.52 345.8,396.58 343.8,397.65 341.8,398.73 339.8,399.81 337.8,400.90 335.8,401.99 333.8,403.09 331.8,404.20 329.8,405.31 327.8,406.43 325.8,407.55 323.8,408.67 321.8,409.80 319.8,410.93 317.8,412.06 315.8,413.20 313.8,414.34 311.8,415.48 309.8,416.62 307.8,417.76 305.8,418.90 303.8,420.04 301.8,421.18 299.8,422.32 297.7,423.46 295.7,424.60 293.7,425.74 291.7,426.87 289.7,428.00 287.7,429.13 285.7,430.25 283.7,431.38 281.7,432.49 279.7,433.60 277.7,434.71 275.7,435.81 273.7,436.91 271.7,438.00 269.7,439.08 267.7,440.16 265.7,441.23 263.7,442.29 261.7,443.34 259.7,444.39 257.7,445.43 255.7,446.45 253.7,447.47 251.7,448.48 249.7,449.48 247.7,450.47 245.7,451.46 243.7,452.43 241.7,453.40 239.6,454.36 237.6,455.31 235.6,456.26 233.6,457.20 231.6,458.13 229.6,459.06 227.6,459.99 225.6,460.90 223.6,461.82 221.6,462.72 219.6,463.63 217.6,464.53 215.6,465.42 213.6,466.31 211.6,467.20 209.6,468.09 207.6,468.97 205.6,469.85 203.6,470.73 201.6,471.61 199.6,472.48 197.6,473.36 195.6,474.23 193.6,475.10 191.6,475.98 189.6,476.85 187.6,477.72 185.6,478.59 183.6,479.47 181.5,480.34 179.5,481.22 177.5,482.10 175.5,482.98 173.5,483.86 171.5,484.75 169.5,485.64 167.5,486.53 165.5,487.42 163.5,488.32 161.5,489.23 159.5,490.13 157.5,491.04 155.5,491.96 153.5,492.88 150.5,494.26"/>
<polygon points="150.5,496.84 153.5,495.52 155.5,494.64 157.5,493.76 159.5,492.88 161.5,492.01 163.5,491.13 165.5,490.26 167.5,489.39 169.5,488.52 171.5,487.66 173.5,486.79 175.5,485.93 177.5,485.06 179.5,484.20 181.5,483.34 183.6,482.47 185.6,481.61 187.6,480.75 189.6,479.89 191.6,479.02 193.6,478.16 195.6,477.29 197.6,476.43 199.6,475.56 201.6,474.69 203.6,473.82 205.6,472.95 207.6,472.07 209.6,471.19 211.6,470.31 213.6,469.43 215.6,468.55 217.6,467.66 219.6,466.77 221.6,465.87 223.6,464.98 225.6,464.07 227.6,463.17 229.6,462.26 231.6,461.34 233.6,460.43 235.6,459.50 237.6,458.58 239.6,457.64 241.7,456.70 243.7,455.76 245.7,454.81 247.7,453.86 249.7,452.90 251.7,451.93 253.7,450.96 255.7,449.98 257.7,448.99 259.7,447.99 261.7,446.99 263.7,445.99 265.7,444.97 267.7,443.95 269.7,442.92 271.7,441.88 273.7,440.83 275.7,439.78 277.7,438.72 279.7,437.66 281.7,436.59 283.7,435.51 285.7,434.44 287.7,433.36 289.7,432.27 291.7,431.19 293.7,430.10 295.7,429.01 297.7,427.92 299.8,426.83 301.8,425.74 303.8,424.65 305.8,423.56 307.8,422.48 309.8,421.39 311.8,420.31 313.8,419.24 315.8,418.17 317.8,417.10 319.8,416.04 321.8,414.98 323.8,413.93 325.8,412.88 327.8,411.85 329.8,410.82 331.8,409.80 333.8,408.79 335.8,407.78 337.8,406.79 339.8,405.81 341.8,404.83 343.8,403.86 345.8,402.89 347.8,401.94 349.8,400.99 351.8,400.04 353.8,399.10 355.8,398.17 357.8,397.24 359.9,396.31 361.9,395.39 363.9,394.47 365.9,393.55 367.9,392.64 369.9,391.73 371.9,390.82 373.9,389.91 375.9,389.01 377.9,388.11 379.9,387.22 381.9,386.34 383.9,385.46 385.9,384.60 387.9,383.74 389.9,382.90 391.9,382.07 393.9,381.25 395.9,380.45 397.9,379.67 399.9,378.90 401.9,378.15 403.9,377.42 405.9,376.70 407.9,376.01 409.9,375.33 411.9,374.67 413.9,374.03 415.9,373.41 418.0,372.82 420.0,372.24 422.0,371.68 424.0,371.14 426.0,370.62 428.0,370.12 430.0,369.64 432.0,369.18 434.0,368.74 436.0,368.32 438.0,367.92 440.0,367.54 442.0,367.19 444.0,366.85 446.0,366.53 449.0,366.05 449.0,368.18 446.0,368.66 444.0,368.98 442.0,369.33 440.0,369.69 438.0,370.08 436.0,370.49 434.0,370.91 432.0,371.36 430.0,371.83 428.0,372.31 426.0,372.82 424.0,373.35 422.0,373.90 420.0,374.46 418.0,375.05 415.9,375.66 413.9,376.29 411.9,376.93 409.9,377.60 407.9,378.28 405.9,378.98 403.9,379.71 401.9,380.44 399.9,381.20 397.9,381.98 395.9,382.77 393.9,383.58 391.9,384.40 389.9,385.23 387.9,386.08 385.9,386.94 383.9,387.81 381.9,388.69 379.9,389.57 377.9,390.47 375.9,391.37 373.9,392.27 371.9,393.18 369.9,394.09 367.9,395.00 365.9,395.92 363.9,396.84 361.9,397.76 359.9,398.68 357.8,399.61 355.8,400.54 353.8,401.48 351.8,402.42 349.8,403.37 347.8,404.32 345.8,405.28 343.8,406.24 341.8,407.22 339.8,408.20 337.8,409.19 335.8,410.18 333.8,411.19 331.8,412.20 329.8,413.23 327.8,414.26 325.8,415.30 323.8,416.35 321.8,417.40 319.8,418.46 317.8,419.52 315.8,420.59 313.8,421.67 311.8,422.75 309.8,423.83 307.8,424.91 305.8,426.00 303.8,427.09 301.8,428.17 299.8,429.26 297.7,430.35 295.7,431.44 293.7,432.53 291.7,433.62 289.7,434.71 287.7,435.79 285.7,436.87 283.7,437.94 281.7,439.02 279.7,440.08 277.7,441.14 275.7,442.20 273.7,443.25 271.7,444.29 269.7,445.33 267.7,446.36 265.7,447.38 263.7,448.39 261.7,449.39 259.7,450.39 257.7,451.38 255.7,452.37 253.7,453.34 251.7,454.32 249.7,455.28 247.7,456.24 245.7,457.19 243.7,458.14 241.7,459.08 239.6,460.02 237.6,460.95 235.6,461.87 233.6,462.79 231.6,463.71 229.6,464.62 227.6,465.53 225.6,466.43 223.6,467.33 221.6,468.23 219.6,469.12 217.6,470.01 215.6,470.90 213.6,471.78 211.6,472.67 209.6,473.54 207.6,474.42 205.6,475.29 203.6,476.17 201.6,477.04 199.6,477.90 197.6,478.77 195.6,479.64 193.6,480.50 191.6,481.37 189.6,482.23 187.6,483.09 185.6,483.96 183.6,484.82 181.5,485.68 179.5,486.54 177.5,487.41 175.5,488.27 173.5,489.14 171.5,490.00 169.5,490.87 167.5,491.74 165.5,492.61 163.5,493.48 161.5,494.36 159.5,495.23 157.5,496.11 155.5,496.99 153.5,497.87 150.5,499.20"/>
<polygon points="443.0,366.90 446.0,366.33 448.0,365.96 450.0,365.64 452.0,365.38 454.0,365.16 456.0,365.00 458.0,364.88 460.0,364.82 462.0,364.80 464.0,364.82 466.0,364.88 468.0,364.98 470.0,365.13 472.0,365.33 474.0,365.57 476.1,365.86 478.1,366.19 480.1,366.57 482.1,366.98 484.1,367.44 486.1,367.94 488.1,368.48 490.1,369.06 492.1,369.68 494.1,370.34 496.1,371.03 498.1,371.75 500.1,372.50 502.1,373.26 504.1,374.05 506.1,374.84 508.1,375.64 510.1,376.45 512.1,377.27 514.1,378.12 516.1,379.00 518.1,379.91 520.1,380.86 522.1,381.84 524.1,382.84 526.1,383.87 528.1,384.91 530.1,385.96 532.1,387.03 534.2,388.10 536.2,389.17 538.2,390.25 540.2,391.32 542.2,392.38 544.2,393.45 546.2,394.51 548.2,395.58 550.2,396.64 552.2,397.70 554.2,398.77 556.2,399.84 558.2,400.91 560.2,401.98 562.2,403.05 564.2,404.13 566.2,405.22 568.2,406.30 570.2,407.39 572.2,408.48 574.2,409.57 576.2,410.67 578.2,411.76 580.2,412.86 582.2,413.95 584.2,415.05 586.2,416.14 588.2,417.23 590.2,418.32 592.2,419.41 594.3,420.49 596.3,421.57 598.3,422.65 600.3,423.73 602.3,424.80 604.3,425.86 606.3,426.92 608.3,427.98 610.3,429.03 612.3,430.08 614.3,431.12 616.3,432.15 618.3,433.18 620.3,434.20 622.3,435.22 624.3,436.23 626.3,437.23 628.3,438.22 630.3,439.20 632.3,440.18 634.3,441.15 636.3,442.11 638.3,443.07 640.3,444.02 642.3,444.97 644.3,445.92 646.3,446.86 648.3,447.79 650.3,448.73 652.4,449.66 654.4,450.60 656.4,451.53 658.4,452.45 660.4,453.38 662.4,454.30 664.4,455.22 666.4,456.14 668.4,457.06 670.4,457.97 672.4,458.87 674.4,459.78 676.4,460.68 678.4,461.57 680.4,462.47 682.4,463.35 684.4,464.24 686.4,465.11 688.4,465.99 690.4,466.85 692.4,467.72 694.4,468.57 696.4,469.43 698.4,470.27 700.4,471.11 702.4,471.94 704.4,472.77 706.4,473.59 708.4,474.40 710.5,475.21 712.5,476.01 714.5,476.80 716.5,477.59 718.5,478.36 720.5,479.13 722.5,479.89 724.5,480.64 726.5,481.39 728.5,482.12 730.5,482.85 732.5,483.57 734.5,484.28 736.5,484.97 738.5,485.66 741.5,486.69 741.5,488.97 738.5,487.94 736.5,487.25 734.5,486.56 732.5,485.85 730.5,485.14 728.5,484.41 726.5,483.68 724.5,482.94 722.5,482.19 720.5,481.44 718.5,480.67 716.5,479.90 714.5,479.11 712.5,478.33 710.5,477.53 708.4,476.73 706.4,475.92 704.4,475.10 702.4,474.27 700.4,473.44 698.4,472.61 696.4,471.76 694.4,470.91 692.4,470.06 690.4,469.20 688.4,468.33 686.4,467.46 684.4,466.59 682.4,465.71 680.4,464.82 678.4,463.93 676.4,463.04 674.4,462.14 672.4,461.24 670.4,460.33 668.4,459.42 666.4,458.51 664.4,457.59 662.4,456.67 660.4,455.75 658.4,454.82 656.4,453.90 654.4,452.97 652.4,452.04 650.3,451.10 648.3,450.17 646.3,449.23 644.3,448.29 642.3,447.35 640.3,446.40 638.3,445.45 636.3,444.50 634.3,443.53 632.3,442.57 630.3,441.59 628.3,440.61 626.3,439.62 624.3,438.63 622.3,437.62 620.3,436.61 618.3,435.59 616.3,434.57 614.3,433.53 612.3,432.50 610.3,431.45 608.3,430.40 606.3,429.35 604.3,428.29 602.3,427.22 600.3,426.15 598.3,425.08 596.3,424.00 594.3,422.92 592.2,421.84 590.2,420.75 588.2,419.67 586.2,418.57 584.2,417.48 582.2,416.39 580.2,415.29 578.2,414.20 576.2,413.11 574.2,412.01 572.2,410.92 570.2,409.83 568.2,408.74 566.2,407.65 564.2,406.57 562.2,405.49 560.2,404.41 558.2,403.33 556.2,402.26 554.2,401.20 552.2,400.13 550.2,399.07 548.2,398.00 546.2,396.94 544.2,395.87 542.2,394.81 540.2,393.74 538.2,392.67 536.2,391.60 534.2,390.53 532.1,389.45 530.1,388.39 528.1,387.33 526.1,386.28 524.1,385.25 522.1,384.24 520.1,383.25 518.1,382.29 516.1,381.36 514.1,380.47 512.1,379.61 510.1,378.78 508.1,377.96 506.1,377.16 504.1,376.36 502.1,375.57 500.1,374.80 498.1,374.05 496.1,373.32 494.1,372.61 492.1,371.94 490.1,371.30 488.1,370.71 486.1,370.15 484.1,369.64 482.1,369.16 480.1,368.73 478.1,368.34 476.1,367.99 474.0,367.68 472.0,367.42 470.0,367.21 468.0,367.04 466.0,366.91 464.0,366.83 462.0,366.80 460.0,366.84 458.0,366.92 456.0,367.06 454.0,367.24 452.0,367.48 450.0,367.76 448.0,368.10 446.0,368.48 443.0,369.05"/>
<polygon points="443.0,366.04 446.0,366.54 448.0,366.87 450.0,367.23 452.0,367.61 454.0,368.01 456.0,368.44 458.0,368.89 460.0,369.37 462.0,369.86 464.0,370.38 466.0,370.92 468.0,371.48 470.0,372.06 472.0,372.66 474.0,373.28 476.1,373.92 478.1,374.57 480.1,375.24 482.1,375.93 484.1,376.64 486.1,377.36 488.1,378.09 490.1,378.84 492.1,379.60 494.1,380.38 496.1,381.17 498.1,381.97 500.1,382.78 502.1,383.61 504.1,384.44 506.1,385.29 508.1,386.15 510.1,387.02 512.1,387.90 514.1,388.79 516.1,389.69 518.1,390.60 520.1,391.52 522.1,392.44 524.1,393.38 526.1,394.32 528.1,395.27 530.1,396.22 532.1,397.19 534.2,398.16 536.2,399.13 538.2,400.12 540.2,401.10 542.2,402.09 544.2,403.09 546.2,404.09 548.2,405.10 550.2,406.11 552.2,407.12 554.2,408.13 556.2,409.15 558.2,410.17 560.2,411.20 562.2,412.22 564.2,413.24 566.2,414.27 568.2,415.30 570.2,416.32 572.2,417.35 574.2,418.38 576.2,419.40 578.2,420.43 580.2,421.45 582.2,422.47 584.2,423.49 586.2,424.51 588.2,425.52 590.2,426.53 592.2,427.54 594.3,428.54 596.3,429.55 598.3,430.55 600.3,431.55 602.3,432.54 604.3,433.53 606.3,434.52 608.3,435.51 610.3,436.50 612.3,437.48 614.3,438.46 616.3,439.44 618.3,440.41 620.3,441.39 622.3,442.35 624.3,443.32 626.3,444.28 628.3,445.24 630.3,446.19 632.3,447.14 634.3,448.08 636.3,449.02 638.3,449.96 640.3,450.89 642.3,451.82 644.3,452.74 646.3,453.66 648.3,454.58 650.3,455.49 652.4,456.40 654.4,457.30 656.4,458.20 658.4,459.10 660.4,459.99 662.4,460.88 664.4,461.77 666.4,462.65 668.4,463.53 670.4,464.41 672.4,465.28 674.4,466.15 676.4,467.02 678.4,467.89 680.4,468.75 682.4,469.61 684.4,470.46 686.4,471.32 688.4,472.17 690.4,473.01 692.4,473.86 694.4,474.70 696.4,475.53 698.4,476.36 700.4,477.19 702.4,478.01 704.4,478.82 706.4,479.63 708.4,480.43 710.5,481.22 712.5,482.01 714.5,482.78 716.5,483.55 718.5,484.31 720.5,485.07 722.5,485.81 724.5,486.54 726.5,487.27 728.5,487.98 730.5,488.68 732.5,489.37 734.5,490.05 736.5,490.72 738.5,491.37 741.5,492.35 741.5,494.61 738.5,493.63 736.5,492.98 734.5,492.32 732.5,491.64 730.5,490.96 728.5,490.26 726.5,489.55 724.5,488.83 722.5,488.10 720.5,487.36 718.5,486.62 716.5,485.86 714.5,485.09 712.5,484.32 710.5,483.53 708.4,482.74 706.4,481.95 704.4,481.14 702.4,480.33 700.4,479.51 698.4,478.69 696.4,477.86 694.4,477.03 692.4,476.19 690.4,475.35 688.4,474.51 686.4,473.66 684.4,472.80 682.4,471.95 680.4,471.09 678.4,470.23 676.4,469.37 674.4,468.50 672.4,467.63 670.4,466.76 668.4,465.88 666.4,465.01 664.4,464.12 662.4,463.24 660.4,462.35 658.4,461.46 656.4,460.56 654.4,459.66 652.4,458.76 650.3,457.85 648.3,456.94 646.3,456.03 644.3,455.11 642.3,454.19 640.3,453.26 638.3,452.33 636.3,451.40 634.3,450.46 632.3,449.52 630.3,448.57 628.3,447.62 626.3,446.66 624.3,445.70 622.3,444.74 620.3,443.77 618.3,442.80 616.3,441.83 614.3,440.85 612.3,439.87 610.3,438.89 608.3,437.91 606.3,436.92 604.3,435.93 602.3,434.94 600.3,433.94 598.3,432.95 596.3,431.95 594.3,430.95 592.2,429.94 590.2,428.93 588.2,427.92 586.2,426.91 584.2,425.90 582.2,424.88 580.2,423.86 578.2,422.84 576.2,421.81 574.2,420.79 572.2,419.76 570.2,418.73 568.2,417.71 566.2,416.68 564.2,415.65 562.2,414.63 560.2,413.60 558.2,412.58 556.2,411.56 554.2,410.54 552.2,409.52 550.2,408.51 548.2,407.50 546.2,406.49 544.2,405.49 542.2,404.49 540.2,403.50 538.2,402.51 536.2,401.53 534.2,400.55 532.1,399.57 530.1,398.61 528.1,397.65 526.1,396.70 524.1,395.75 522.1,394.81 520.1,393.89 518.1,392.96 516.1,392.05 514.1,391.15 512.1,390.25 510.1,389.37 508.1,388.50 506.1,387.63 504.1,386.78 502.1,385.94 500.1,385.11 498.1,384.29 496.1,383.48 494.1,382.69 492.1,381.91 490.1,381.14 488.1,380.39 486.1,379.65 484.1,378.92 482.1,378.21 480.1,377.52 478.1,376.84 476.1,376.18 474.0,375.53 472.0,374.91 470.0,374.30 468.0,373.71 466.0,373.14 464.0,372.59 462.0,372.07 460.0,371.56 458.0,371.08 456.0,370.62 454.0,370.18 452.0,369.77 450.0,369.38 448.0,369.01 446.0,368.68 443.0,368.18"/>
</g>
<rect x="445" y="68.5" width="3" height="432.0" fill="#000" shape-rendering="crispEdges"/>
<g id="axB" shape-rendering="crispEdges" fill="#000">
<rect x="857.0" y="67.0" width="583.0" height="3"/>
<rect x="857.0" y="493.0" width="583.0" height="3"/>
<rect x="857.0" y="67.0" width="3" height="429.0"/>
<rect x="1437.0" y="67.0" width="3" height="429.0"/>
<rect x="973" y="70.0" width="3" height="8"/>
<rect x="973" y="485.0" width="3" height="8"/>
<rect x="1089" y="70.0" width="3" height="8"/>
<rect x="1089" y="485.0" width="3" height="8"/>
<rect x="1205" y="70.0" width="3" height="8"/>
<rect x="1205" y="485.0" width="3" height="8"/>
<rect x="1321" y="70.0" width="3" height="8"/>
<rect x="1321" y="485.0" width="3" height="8"/>
<rect x="915" y="70.0" width="3" height="4"/>
<rect x="915" y="489.0" width="3" height="4"/>
<rect x="1031" y="70.0" width="3" height="4"/>
<rect x="1031" y="489.0" width="3" height="4"/>
<rect x="1147" y="70.0" width="3" height="4"/>
<rect x="1147" y="489.0" width="3" height="4"/>
<rect x="1263" y="70.0" width="3" height="4"/>
<rect x="1263" y="489.0" width="3" height="4"/>
<rect x="1379" y="70.0" width="3" height="4"/>
<rect x="1379" y="489.0" width="3" height="4"/>
<rect x="860.0" y="97" width="4" height="3"/>
<rect x="1433.0" y="97" width="4" height="3"/>
<rect x="860.0" y="128" width="8" height="3"/>
<rect x="1429.0" y="128" width="8" height="3"/>
<rect x="860.0" y="158" width="4" height="3"/>
<rect x="1433.0" y="158" width="4" height="3"/>
<rect x="860.0" y="189" width="8" height="3"/>
<rect x="1429.0" y="189" width="8" height="3"/>
<rect x="860.0" y="219" width="4" height="3"/>
<rect x="1433.0" y="219" width="4" height="3"/>
<rect x="860.0" y="250" width="8" height="3"/>
<rect x="1429.0" y="250" width="8" height="3"/>
<rect x="860.0" y="280" width="4" height="3"/>
<rect x="1433.0" y="280" width="4" height="3"/>
<rect x="860.0" y="310" width="8" height="3"/>
<rect x="1429.0" y="310" width="8" height="3"/>
<rect x="860.0" y="341" width="4" height="3"/>
<rect x="1433.0" y="341" width="4" height="3"/>
<rect x="860.0" y="371" width="8" height="3"/>
<rect x="1429.0" y="371" width="8" height="3"/>
<rect x="860.0" y="402" width="4" height="3"/>
<rect x="1433.0" y="402" width="4" height="3"/>
<rect x="860.0" y="432" width="8" height="3"/>
<rect x="1429.0" y="432" width="8" height="3"/>
<rect x="860.0" y="463" width="4" height="3"/>
<rect x="1433.0" y="463" width="4" height="3"/>
</g>
<clipPath id="clipB"><rect x="858" y="68" width="580" height="427"/></clipPath>
<g id="curvesB" clip-path="url(#clipB)" fill="#0000ff" stroke="none" shape-rendering="crispEdges">
<polygon points="855.0,171.03 858.0,171.02 860.0,171.02 862.0,171.01 864.0,170.99 866.0,170.97 868.0,170.94 870.0,170.91 872.0,170.86 874.0,170.82 876.0,170.77 878.0,170.71 880.0,170.64 882.0,170.58 884.0,170.50 886.0,170.42 888.0,170.33 890.0,170.24 892.0,170.15 894.0,170.04 896.0,169.94 898.0,169.82 900.0,169.71 902.0,169.58 904.0,169.45 906.0,169.32 908.0,169.18 910.0,169.04 912.0,168.89 914.0,168.74 916.0,168.58 918.1,168.41 920.1,168.25 922.1,168.07 924.1,167.89 926.1,167.71 928.1,167.52 930.1,167.33 932.1,167.14 934.1,166.94 936.1,166.73 938.1,166.52 940.1,166.31 942.1,166.09 944.1,165.86 946.1,165.64 948.1,165.41 950.1,165.17 952.1,164.93 954.1,164.69 956.1,164.44 958.1,164.19 960.1,163.93 962.1,163.67 964.1,163.41 966.1,163.14 968.1,162.87 970.1,162.59 972.1,162.31 974.1,162.03 976.1,161.74 978.1,161.45 980.1,161.16 982.1,160.86 984.1,160.56 986.1,160.26 988.1,159.95 990.1,159.64 992.1,159.33 994.1,159.01 996.1,158.69 998.1,158.37 1000.1,158.04 1002.1,157.71 1004.1,157.38 1006.1,157.04 1008.1,156.70 1010.1,156.36 1012.1,156.02 1014.1,155.67 1016.1,155.32 1018.1,154.97 1020.1,154.61 1022.1,154.25 1024.1,153.89 1026.1,153.53 1028.1,153.16 1030.1,152.80 1032.2,152.42 1034.2,152.05 1036.2,151.68 1038.2,151.30 1040.2,150.92 1042.2,150.54 1044.2,150.15 1046.2,149.76 1048.2,149.38 1050.2,148.98 1052.2,148.59 1054.2,148.20 1056.2,147.80 1058.2,147.40 1060.2,147.00 1062.2,146.60 1064.2,146.19 1066.2,145.79 1068.2,145.38 1070.2,144.97 1072.2,144.56 1074.2,144.15 1076.2,143.74 1078.2,143.32 1080.2,142.90 1082.2,142.49 1084.2,142.07 1086.2,141.65 1088.2,141.22 1090.2,140.80 1092.2,140.38 1094.2,139.95 1096.2,139.53 1098.2,139.10 1100.2,138.67 1102.2,138.24 1104.2,137.81 1106.2,137.38 1108.2,136.95 1110.2,136.51 1112.2,136.08 1114.2,135.65 1116.2,135.21 1118.2,134.78 1120.2,134.34 1122.2,133.90 1124.2,133.47 1126.2,133.03 1128.2,132.59 1130.2,132.15 1132.2,131.72 1134.2,131.28 1136.2,130.84 1138.2,130.40 1140.2,129.96 1142.2,129.52 1144.2,129.08 1146.2,128.64 1148.2,128.20 1150.3,127.76 1152.3,127.32 1154.3,126.88 1156.3,126.45 1158.3,126.01 1160.3,125.57 1162.3,125.13 1164.3,124.69 1166.3,124.26 1168.3,123.82 1170.3,123.38 1172.3,122.95 1174.3,122.51 1176.3,122.08 1178.3,121.64 1180.3,121.21 1182.3,120.78 1184.3,120.35 1186.3,119.92 1188.3,119.49 1190.3,119.06 1192.3,118.63 1194.3,118.20 1196.3,117.78 1198.3,117.35 1200.3,116.93 1202.3,116.51 1204.3,116.09 1206.3,115.67 1208.3,115.25 1210.3,114.83 1212.3,114.42 1214.3,114.00 1216.3,113.59 1218.3,113.18 1220.3,112.77 1222.3,112.36 1224.3,111.95 1226.3,111.55 1228.3,111.15 1230.3,110.74 1232.3,110.35 1234.3,109.95 1236.3,109.55 1238.3,109.16 1240.3,108.77 1242.3,108.38 1244.3,107.99 1246.3,107.60 1248.3,107.22 1250.3,106.84 1252.3,106.46 1254.3,106.08 1256.3,105.71 1258.3,105.34 1260.3,104.97 1262.3,104.60 1264.3,104.24 1266.4,103.88 1268.4,103.52 1270.4,103.16 1272.4,102.81 1274.4,102.46 1276.4,102.11 1278.4,101.76 1280.4,101.42 1282.4,101.08 1284.4,100.74 1286.4,100.41 1288.4,100.08 1290.4,99.75 1292.4,99.43 1294.4,99.10 1296.4,98.79 1298.4,98.47 1300.4,98.16 1302.4,97.85 1304.4,97.55 1306.4,97.24 1308.4,96.95 1310.4,96.65 1312.4,96.36 1314.4,96.07 1316.4,95.79 1318.4,95.51 1320.4,95.23 1322.4,94.96 1324.4,94.69 1326.4,94.42 1328.4,94.16 1330.4,93.90 1332.4,93.65 1334.4,93.40 1336.4,93.16 1338.4,92.91 1340.4,92.68 1342.4,92.44 1344.4,92.21 1346.4,91.99 1348.4,91.77 1350.4,91.55 1352.4,91.34 1354.4,91.13 1356.4,90.93 1358.4,90.73 1360.4,90.54 1362.4,90.35 1364.4,90.17 1366.4,89.99 1368.4,89.81 1370.4,89.64 1372.4,89.48 1374.4,89.32 1376.4,89.16 1378.4,89.01 1380.4,88.86 1382.5,88.72 1384.5,88.59 1386.5,88.46 1388.5,88.33 1390.5,88.21 1392.5,88.10 1394.5,87.99 1396.5,87.88 1398.5,87.78 1400.5,87.69 1402.5,87.60 1404.5,87.52 1406.5,87.44 1408.5,87.37 1410.5,87.31 1412.5,87.25 1414.5,87.19 1416.5,87.14 1418.5,87.10 1420.5,87.06 1422.5,87.03 1424.5,87.01 1426.5,86.99 1428.5,86.98 1430.5,86.97 1432.5,86.97 1434.5,86.97 1436.5,86.98 1438.5,86.99 1441.5,87.02 1441.5,89.02 1438.5,89.00 1436.5,88.98 1434.5,88.97 1432.5,88.97 1430.5,88.97 1428.5,88.98 1426.5,89.00 1424.5,89.02 1422.5,89.04 1420.5,89.08 1418.5,89.12 1416.5,89.16 1414.5,89.21 1412.5,89.27 1410.5,89.33 1408.5,89.40 1406.5,89.47 1404.5,89.55 1402.5,89.64 1400.5,89.73 1398.5,89.82 1396.5,89.92 1394.5,90.03 1392.5,90.14 1390.5,90.26 1388.5,90.38 1386.5,90.51 1384.5,90.64 1382.5,90.78 1380.4,90.92 1378.4,91.07 1376.4,91.22 1374.4,91.38 1372.4,91.54 1370.4,91.71 1368.4,91.88 1366.4,92.06 1364.4,92.24 1362.4,92.43 1360.4,92.62 1358.4,92.81 1356.4,93.01 1354.4,93.22 1352.4,93.43 1350.4,93.64 1348.4,93.86 1346.4,94.08 1344.4,94.31 1342.4,94.54 1340.4,94.77 1338.4,95.01 1336.4,95.25 1334.4,95.50 1332.4,95.75 1330.4,96.01 1328.4,96.27 1326.4,96.53 1324.4,96.80 1322.4,97.07 1320.4,97.34 1318.4,97.62 1316.4,97.90 1314.4,98.19 1312.4,98.47 1310.4,98.77 1308.4,99.06 1306.4,99.36 1304.4,99.67 1302.4,99.97 1300.4,100.28 1298.4,100.60 1296.4,100.91 1294.4,101.23 1292.4,101.55 1290.4,101.88 1288.4,102.21 1286.4,102.54 1284.4,102.88 1282.4,103.22 1280.4,103.56 1278.4,103.90 1276.4,104.25 1274.4,104.60 1272.4,104.95 1270.4,105.30 1268.4,105.66 1266.4,106.02 1264.3,106.38 1262.3,106.75 1260.3,107.12 1258.3,107.49 1256.3,107.86 1254.3,108.24 1252.3,108.61 1250.3,108.99 1248.3,109.37 1246.3,109.76 1244.3,110.14 1242.3,110.53 1240.3,110.92 1238.3,111.32 1236.3,111.71 1234.3,112.11 1232.3,112.50 1230.3,112.90 1228.3,113.31 1226.3,113.71 1224.3,114.12 1222.3,114.52 1220.3,114.93 1218.3,115.34 1216.3,115.75 1214.3,116.17 1212.3,116.58 1210.3,117.00 1208.3,117.42 1206.3,117.83 1204.3,118.26 1202.3,118.68 1200.3,119.10 1198.3,119.52 1196.3,119.95 1194.3,120.37 1192.3,120.80 1190.3,121.23 1188.3,121.66 1186.3,122.09 1184.3,122.52 1182.3,122.95 1180.3,123.38 1178.3,123.82 1176.3,124.25 1174.3,124.69 1172.3,125.12 1170.3,125.56 1168.3,125.99 1166.3,126.43 1164.3,126.87 1162.3,127.31 1160.3,127.74 1158.3,128.18 1156.3,128.62 1154.3,129.06 1152.3,129.50 1150.3,129.94 1148.2,130.38 1146.2,130.82 1144.2,131.26 1142.2,131.70 1140.2,132.13 1138.2,132.57 1136.2,133.01 1134.2,133.45 1132.2,133.89 1130.2,134.33 1128.2,134.77 1126.2,135.20 1124.2,135.64 1122.2,136.08 1120.2,136.51 1118.2,136.95 1116.2,137.39 1114.2,137.82 1112.2,138.25 1110.2,138.69 1108.2,139.12 1106.2,139.55 1104.2,139.98 1102.2,140.41 1100.2,140.84 1098.2,141.27 1096.2,141.70 1094.2,142.12 1092.2,142.55 1090.2,142.97 1088.2,143.39 1086.2,143.81 1084.2,144.23 1082.2,144.65 1080.2,145.07 1078.2,145.49 1076.2,145.90 1074.2,146.31 1072.2,146.73 1070.2,147.14 1068.2,147.54 1066.2,147.95 1064.2,148.36 1062.2,148.76 1060.2,149.16 1058.2,149.56 1056.2,149.96 1054.2,150.35 1052.2,150.75 1050.2,151.14 1048.2,151.53 1046.2,151.92 1044.2,152.30 1042.2,152.69 1040.2,153.07 1038.2,153.45 1036.2,153.83 1034.2,154.20 1032.2,154.57 1030.1,154.94 1028.1,155.31 1026.1,155.67 1024.1,156.04 1022.1,156.40 1020.1,156.75 1018.1,157.11 1016.1,157.46 1014.1,157.81 1012.1,158.16 1010.1,158.50 1008.1,158.84 1006.1,159.18 1004.1,159.51 1002.1,159.84 1000.1,160.17 998.1,160.50 996.1,160.82 994.1,161.14 992.1,161.45 990.1,161.77 988.1,162.08 986.1,162.38 984.1,162.68 982.1,162.98 980.1,163.28 978.1,163.57 976.1,163.86 974.1,164.14 972.1,164.42 970.1,164.70 968.1,164.98 966.1,165.25 964.1,165.51 962.1,165.77 960.1,166.03 958.1,166.29 956.1,166.54 954.1,166.78 952.1,167.03 950.1,167.26 948.1,167.50 946.1,167.73 944.1,167.95 942.1,168.17 940.1,168.39 938.1,168.60 936.1,168.81 934.1,169.02 932.1,169.22 930.1,169.41 928.1,169.60 926.1,169.79 924.1,169.97 922.1,170.14 920.1,170.31 918.1,170.48 916.0,170.64 914.0,170.80 912.0,170.95 910.0,171.10 908.0,171.24 906.0,171.37 904.0,171.51 902.0,171.63 900.0,171.75 898.0,171.87 896.0,171.98 894.0,172.09 892.0,172.19 890.0,172.28 888.0,172.37 886.0,172.45 884.0,172.53 882.0,172.60 880.0,172.67 878.0,172.73 876.0,172.79 874.0,172.84 872.0,172.88 870.0,172.92 868.0,172.95 866.0,172.98 864.0,173.00 862.0,173.01 860.0,173.02 858.0,173.02 855.0,173.03"/>
<polygon points="855.0,245.00 858.0,245.00 1438.5,245.00 1441.5,245.00 1441.5,247.00 1438.5,247.00 858.0,247.00 855.0,247.00"/>
<polygon points="855.0,348.03 858.0,348.00 860.0,347.97 862.0,347.96 864.0,347.95 866.0,347.95 868.0,347.96 870.0,347.98 872.0,348.00 874.0,348.02 876.0,348.06 878.0,348.10 880.0,348.15 882.0,348.20 884.0,348.26 886.0,348.33 888.0,348.40 890.0,348.48 892.0,348.56 894.0,348.65 896.0,348.75 898.0,348.85 900.0,348.95 902.0,349.06 904.0,349.17 906.0,349.29 908.0,349.41 910.0,349.54 912.0,349.67 914.0,349.80 916.0,349.94 918.1,350.08 920.1,350.22 922.1,350.37 924.1,350.52 926.1,350.67 928.1,350.82 930.1,350.98 932.1,351.14 934.1,351.30 936.1,351.46 938.1,351.63 940.1,351.79 942.1,351.96 944.1,352.13 946.1,352.30 948.1,352.47 950.1,352.64 952.1,352.81 954.1,352.99 956.1,353.16 958.1,353.33 960.1,353.50 962.1,353.68 964.1,353.85 966.1,354.02 968.1,354.19 970.1,354.36 972.1,354.53 974.1,354.69 976.1,354.86 978.1,355.02 980.1,355.19 982.1,355.35 984.1,355.50 986.1,355.66 988.1,355.81 990.1,355.96 992.1,356.11 994.1,356.26 996.1,356.40 998.1,356.54 1000.1,356.67 1002.1,356.80 1004.1,356.93 1006.1,357.06 1008.1,357.18 1010.1,357.30 1012.1,357.42 1014.1,357.53 1016.1,357.64 1018.1,357.75 1020.1,357.85 1022.1,357.96 1024.1,358.06 1026.1,358.15 1028.1,358.25 1030.1,358.34 1032.2,358.43 1034.2,358.51 1036.2,358.60 1038.2,358.68 1040.2,358.76 1042.2,358.83 1044.2,358.91 1046.2,358.98 1048.2,359.05 1050.2,359.12 1052.2,359.18 1054.2,359.25 1056.2,359.31 1058.2,359.37 1060.2,359.42 1062.2,359.48 1064.2,359.53 1066.2,359.58 1068.2,359.63 1070.2,359.68 1072.2,359.73 1074.2,359.77 1076.2,359.81 1078.2,359.86 1080.2,359.89 1082.2,359.93 1084.2,359.97 1086.2,360.00 1088.2,360.04 1090.2,360.07 1092.2,360.10 1094.2,360.13 1096.2,360.16 1098.2,360.18 1100.2,360.21 1102.2,360.23 1104.2,360.26 1106.2,360.28 1108.2,360.30 1110.2,360.32 1112.2,360.34 1114.2,360.36 1116.2,360.38 1118.2,360.39 1120.2,360.41 1122.2,360.43 1124.2,360.44 1126.2,360.45 1128.2,360.47 1130.2,360.48 1132.2,360.49 1134.2,360.50 1136.2,360.52 1138.2,360.53 1140.2,360.54 1142.2,360.55 1144.2,360.56 1146.2,360.57 1148.2,360.58 1150.3,360.59 1152.3,360.60 1154.3,360.61 1156.3,360.61 1158.3,360.62 1160.3,360.63 1162.3,360.64 1164.3,360.65 1166.3,360.66 1168.3,360.67 1170.3,360.67 1172.3,360.68 1174.3,360.69 1176.3,360.70 1178.3,360.70 1180.3,360.71 1182.3,360.72 1184.3,360.73 1186.3,360.73 1188.3,360.74 1190.3,360.75 1192.3,360.75 1194.3,360.76 1196.3,360.77 1198.3,360.77 1200.3,360.78 1202.3,360.79 1204.3,360.79 1206.3,360.80 1208.3,360.80 1210.3,360.81 1212.3,360.82 1214.3,360.82 1216.3,360.83 1218.3,360.83 1220.3,360.84 1222.3,360.84 1224.3,360.85 1226.3,360.85 1228.3,360.86 1230.3,360.86 1232.3,360.87 1234.3,360.87 1236.3,360.87 1238.3,360.88 1240.3,360.88 1242.3,360.89 1244.3,360.89 1246.3,360.90 1248.3,360.90 1250.3,360.90 1252.3,360.91 1254.3,360.91 1256.3,360.91 1258.3,360.92 1260.3,360.92 1262.3,360.92 1264.3,360.93 1266.4,360.93 1268.4,360.93 1270.4,360.94 1272.4,360.94 1274.4,360.94 1276.4,360.94 1278.4,360.95 1280.4,360.95 1282.4,360.95 1284.4,360.95 1286.4,360.96 1288.4,360.96 1290.4,360.96 1292.4,360.96 1294.4,360.96 1296.4,360.97 1298.4,360.97 1300.4,360.97 1302.4,360.97 1304.4,360.97 1306.4,360.98 1308.4,360.98 1310.4,360.98 1312.4,360.98 1314.4,360.98 1316.4,360.98 1318.4,360.98 1320.4,360.99 1322.4,360.99 1324.4,360.99 1326.4,360.99 1328.4,360.99 1330.4,360.99 1332.4,360.99 1334.4,360.99 1336.4,360.99 1338.4,360.99 1340.4,361.00 1342.4,361.00 1344.4,361.00 1346.4,361.00 1348.4,361.00 1350.4,361.00 1352.4,361.00 1354.4,361.00 1356.4,361.00 1358.4,361.00 1360.4,361.00 1362.4,361.00 1364.4,361.00 1366.4,361.00 1368.4,361.00 1370.4,361.00 1372.4,361.00 1374.4,361.00 1376.4,361.00 1378.4,361.00 1380.4,361.00 1382.5,361.00 1384.5,361.00 1386.5,361.00 1388.5,361.00 1390.5,361.00 1392.5,361.00 1394.5,361.00 1396.5,361.00 1398.5,361.00 1400.5,361.00 1402.5,361.00 1404.5,361.00 1406.5,361.00 1408.5,361.00 1410.5,361.00 1412.5,361.00 1414.5,361.00 1416.5,361.00 1418.5,361.00 1420.5,361.00 1422.5,361.00 1424.5,361.00 1426.5,361.00 1428.5,361.00 1430.5,361.00 1432.5,361.00 1434.5,361.00 1436.5,361.00 1438.5,361.00 1441.5,361.00 1441.5,363.00 1438.5,363.00 1436.5,363.00 1434.5,363.00 1432.5,363.00 1430.5,363.00 1428.5,363.00 1426.5,363.00 1424.5,363.00 1422.5,363.00 1420.5,363.00 1418.5,363.00 1416.5,363.00 1414.5,363.00 1412.5,363.00 1410.5,363.00 1408.5,363.00 1406.5,363.00 1404.5,363.00 1402.5,363.00 1400.5,363.00 1398.5,363.00 1396.5,363.00 1394.5,363.00 1392.5,363.00 1390.5,363.00 1388.5,363.00 1386.5,363.00 1384.5,363.00 1382.5,363.00 1380.4,363.00 1378.4,363.00 1376.4,363.00 1374.4,363.00 1372.4,363.00 1370.4,363.00 1368.4,363.00 1366.4,363.00 1364.4,363.00 1362.4,363.00 1360.4,363.00 1358.4,363.00 1356.4,363.00 1354.4,363.00 1352.4,363.00 1350.4,363.00 1348.4,363.00 1346.4,363.00 1344.4,363.00 1342.4,363.00 1340.4,363.00 1338.4,362.99 1336.4,362.99 1334.4,362.99 1332.4,362.99 1330.4,362.99 1328.4,362.99 1326.4,362.99 1324.4,362.99 1322.4,362.99 1320.4,362.99 1318.4,362.98 1316.4,362.98 1314.4,362.98 1312.4,362.98 1310.4,362.98 1308.4,362.98 1306.4,362.98 1304.4,362.97 1302.4,362.97 1300.4,362.97 1298.4,362.97 1296.4,362.97 1294.4,362.97 1292.4,362.96 1290.4,362.96 1288.4,362.96 1286.4,362.96 1284.4,362.95 1282.4,362.95 1280.4,362.95 1278.4,362.95 1276.4,362.95 1274.4,362.94 1272.4,362.94 1270.4,362.94 1268.4,362.93 1266.4,362.93 1264.3,362.93 1262.3,362.92 1260.3,362.92 1258.3,362.92 1256.3,362.92 1254.3,362.91 1252.3,362.91 1250.3,362.90 1248.3,362.90 1246.3,362.90 1244.3,362.89 1242.3,362.89 1240.3,362.89 1238.3,362.88 1236.3,362.88 1234.3,362.87 1232.3,362.87 1230.3,362.86 1228.3,362.86 1226.3,362.85 1224.3,362.85 1222.3,362.84 1220.3,362.84 1218.3,362.83 1216.3,362.83 1214.3,362.82 1212.3,362.82 1210.3,362.81 1208.3,362.81 1206.3,362.80 1204.3,362.80 1202.3,362.79 1200.3,362.78 1198.3,362.78 1196.3,362.77 1194.3,362.76 1192.3,362.76 1190.3,362.75 1188.3,362.74 1186.3,362.74 1184.3,362.73 1182.3,362.72 1180.3,362.72 1178.3,362.71 1176.3,362.70 1174.3,362.69 1172.3,362.68 1170.3,362.68 1168.3,362.67 1166.3,362.66 1164.3,362.65 1162.3,362.64 1160.3,362.64 1158.3,362.63 1156.3,362.62 1154.3,362.61 1152.3,362.60 1150.3,362.59 1148.2,362.58 1146.2,362.57 1144.2,362.56 1142.2,362.55 1140.2,362.54 1138.2,362.53 1136.2,362.52 1134.2,362.51 1132.2,362.50 1130.2,362.49 1128.2,362.47 1126.2,362.46 1124.2,362.45 1122.2,362.43 1120.2,362.42 1118.2,362.40 1116.2,362.38 1114.2,362.37 1112.2,362.35 1110.2,362.33 1108.2,362.31 1106.2,362.29 1104.2,362.27 1102.2,362.24 1100.2,362.22 1098.2,362.19 1096.2,362.17 1094.2,362.14 1092.2,362.11 1090.2,362.08 1088.2,362.05 1086.2,362.02 1084.2,361.98 1082.2,361.95 1080.2,361.91 1078.2,361.87 1076.2,361.83 1074.2,361.79 1072.2,361.75 1070.2,361.70 1068.2,361.65 1066.2,361.60 1064.2,361.55 1062.2,361.50 1060.2,361.45 1058.2,361.39 1056.2,361.33 1054.2,361.27 1052.2,361.21 1050.2,361.15 1048.2,361.08 1046.2,361.01 1044.2,360.94 1042.2,360.86 1040.2,360.79 1038.2,360.71 1036.2,360.63 1034.2,360.55 1032.2,360.46 1030.1,360.37 1028.1,360.28 1026.1,360.19 1024.1,360.09 1022.1,360.00 1020.1,359.90 1018.1,359.79 1016.1,359.68 1014.1,359.57 1012.1,359.46 1010.1,359.35 1008.1,359.23 1006.1,359.11 1004.1,358.98 1002.1,358.85 1000.1,358.72 998.1,358.59 996.1,358.45 994.1,358.31 992.1,358.17 990.1,358.02 988.1,357.87 986.1,357.72 984.1,357.57 982.1,357.41 980.1,357.25 978.1,357.09 976.1,356.92 974.1,356.76 972.1,356.59 970.1,356.43 968.1,356.26 966.1,356.09 964.1,355.92 962.1,355.75 960.1,355.57 958.1,355.40 956.1,355.23 954.1,355.06 952.1,354.88 950.1,354.71 948.1,354.54 946.1,354.37 944.1,354.20 942.1,354.03 940.1,353.86 938.1,353.69 936.1,353.53 934.1,353.37 932.1,353.20 930.1,353.04 928.1,352.89 926.1,352.73 924.1,352.58 922.1,352.43 920.1,352.28 918.1,352.13 916.0,351.99 914.0,351.85 912.0,351.72 910.0,351.59 908.0,351.46 906.0,351.34 904.0,351.22 902.0,351.10 900.0,350.99 898.0,350.89 896.0,350.79 894.0,350.69 892.0,350.60 890.0,350.51 888.0,350.43 886.0,350.36 884.0,350.29 882.0,350.23 880.0,350.17 878.0,350.12 876.0,350.07 874.0,350.04 872.0,350.01 870.0,349.98 868.0,349.97 866.0,349.96 864.0,349.96 862.0,349.96 860.0,349.98 858.0,350.01 855.0,350.04"/>
<polygon points="855.0,364.04 858.0,364.00 860.0,363.98 862.0,363.96 864.0,363.94 866.0,363.92 868.0,363.90 870.0,363.88 872.0,363.87 874.0,363.85 876.0,363.83 878.0,363.82 880.0,363.80 882.0,363.79 884.0,363.78 886.0,363.77 888.0,363.76 890.0,363.75 892.0,363.75 894.0,363.74 896.0,363.74 898.0,363.74 900.0,363.74 902.0,363.74 904.0,363.75 906.0,363.75 908.0,363.76 910.0,363.77 912.0,363.78 914.0,363.80 916.0,363.82 918.1,363.84 920.1,363.86 922.1,363.89 924.1,363.91 926.1,363.95 928.1,363.98 930.1,364.02 932.1,364.06 934.1,364.10 936.1,364.15 938.1,364.20 940.1,364.25 942.1,364.31 944.1,364.37 946.1,364.44 948.1,364.50 950.1,364.58 952.1,364.65 954.1,364.73 956.1,364.82 958.1,364.90 960.1,365.00 962.1,365.09 964.1,365.19 966.1,365.30 968.1,365.41 970.1,365.53 972.1,365.64 974.1,365.77 976.1,365.90 978.1,366.03 980.1,366.17 982.1,366.31 984.1,366.46 986.1,366.62 988.1,366.78 990.1,366.94 992.1,367.11 994.1,367.29 996.1,367.47 998.1,367.66 1000.1,367.85 1002.1,368.05 1004.1,368.26 1006.1,368.47 1008.1,368.69 1010.1,368.91 1012.1,369.14 1014.1,369.38 1016.1,369.62 1018.1,369.87 1020.1,370.13 1022.1,370.39 1024.1,370.66 1026.1,370.94 1028.1,371.22 1030.1,371.51 1032.2,371.81 1034.2,372.11 1036.2,372.42 1038.2,372.74 1040.2,373.06 1042.2,373.39 1044.2,373.73 1046.2,374.07 1048.2,374.41 1050.2,374.76 1052.2,375.12 1054.2,375.48 1056.2,375.84 1058.2,376.21 1060.2,376.58 1062.2,376.96 1064.2,377.34 1066.2,377.72 1068.2,378.11 1070.2,378.50 1072.2,378.89 1074.2,379.28 1076.2,379.68 1078.2,380.08 1080.2,380.48 1082.2,380.88 1084.2,381.28 1086.2,381.69 1088.2,382.10 1090.2,382.51 1092.2,382.92 1094.2,383.33 1096.2,383.75 1098.2,384.16 1100.2,384.58 1102.2,385.00 1104.2,385.42 1106.2,385.85 1108.2,386.27 1110.2,386.70 1112.2,387.12 1114.2,387.55 1116.2,387.98 1118.2,388.41 1120.2,388.85 1122.2,389.28 1124.2,389.71 1126.2,390.15 1128.2,390.59 1130.2,391.03 1132.2,391.46 1134.2,391.90 1136.2,392.35 1138.2,392.79 1140.2,393.23 1142.2,393.67 1144.2,394.12 1146.2,394.56 1148.2,395.01 1150.3,395.46 1152.3,395.90 1154.3,396.35 1156.3,396.80 1158.3,397.25 1160.3,397.70 1162.3,398.15 1164.3,398.60 1166.3,399.05 1168.3,399.50 1170.3,399.95 1172.3,400.41 1174.3,400.86 1176.3,401.31 1178.3,401.76 1180.3,402.22 1182.3,402.67 1184.3,403.12 1186.3,403.57 1188.3,404.03 1190.3,404.48 1192.3,404.93 1194.3,405.38 1196.3,405.83 1198.3,406.28 1200.3,406.74 1202.3,407.18 1204.3,407.63 1206.3,408.08 1208.3,408.53 1210.3,408.97 1212.3,409.42 1214.3,409.86 1216.3,410.30 1218.3,410.75 1220.3,411.19 1222.3,411.62 1224.3,412.06 1226.3,412.50 1228.3,412.93 1230.3,413.36 1232.3,413.79 1234.3,414.22 1236.3,414.64 1238.3,415.07 1240.3,415.49 1242.3,415.90 1244.3,416.32 1246.3,416.74 1248.3,417.15 1250.3,417.56 1252.3,417.96 1254.3,418.36 1256.3,418.76 1258.3,419.16 1260.3,419.56 1262.3,419.95 1264.3,420.34 1266.4,420.72 1268.4,421.10 1270.4,421.48 1272.4,421.86 1274.4,422.23 1276.4,422.60 1278.4,422.96 1280.4,423.33 1282.4,423.69 1284.4,424.04 1286.4,424.40 1288.4,424.75 1290.4,425.09 1292.4,425.43 1294.4,425.77 1296.4,426.11 1298.4,426.44 1300.4,426.77 1302.4,427.10 1304.4,427.42 1306.4,427.74 1308.4,428.06 1310.4,428.37 1312.4,428.68 1314.4,428.99 1316.4,429.29 1318.4,429.59 1320.4,429.89 1322.4,430.18 1324.4,430.47 1326.4,430.75 1328.4,431.04 1330.4,431.31 1332.4,431.59 1334.4,431.86 1336.4,432.13 1338.4,432.39 1340.4,432.65 1342.4,432.91 1344.4,433.16 1346.4,433.41 1348.4,433.66 1350.4,433.90 1352.4,434.14 1354.4,434.37 1356.4,434.60 1358.4,434.82 1360.4,435.04 1362.4,435.26 1364.4,435.47 1366.4,435.68 1368.4,435.88 1370.4,436.07 1372.4,436.26 1374.4,436.45 1376.4,436.63 1378.4,436.80 1380.4,436.97 1382.5,437.14 1384.5,437.30 1386.5,437.45 1388.5,437.60 1390.5,437.74 1392.5,437.87 1394.5,438.00 1396.5,438.12 1398.5,438.24 1400.5,438.34 1402.5,438.45 1404.5,438.54 1406.5,438.63 1408.5,438.71 1410.5,438.78 1412.5,438.84 1414.5,438.90 1416.5,438.95 1418.5,438.99 1420.5,439.02 1422.5,439.05 1424.5,439.06 1426.5,439.07 1428.5,439.06 1430.5,439.05 1432.5,439.02 1434.5,438.99 1436.5,438.95 1438.5,438.89 1441.5,438.82 1441.5,440.84 1438.5,440.92 1436.5,440.97 1434.5,441.01 1432.5,441.04 1430.5,441.06 1428.5,441.07 1426.5,441.07 1424.5,441.07 1422.5,441.05 1420.5,441.03 1418.5,441.00 1416.5,440.97 1414.5,440.92 1412.5,440.87 1410.5,440.81 1408.5,440.74 1406.5,440.66 1404.5,440.58 1402.5,440.48 1400.5,440.39 1398.5,440.28 1396.5,440.17 1394.5,440.05 1392.5,439.92 1390.5,439.79 1388.5,439.65 1386.5,439.51 1384.5,439.36 1382.5,439.20 1380.4,439.04 1378.4,438.87 1376.4,438.70 1374.4,438.52 1372.4,438.34 1370.4,438.15 1368.4,437.96 1366.4,437.76 1364.4,437.55 1362.4,437.34 1360.4,437.13 1358.4,436.91 1356.4,436.69 1354.4,436.46 1352.4,436.23 1350.4,435.99 1348.4,435.75 1346.4,435.51 1344.4,435.26 1342.4,435.01 1340.4,434.76 1338.4,434.50 1336.4,434.23 1334.4,433.97 1332.4,433.70 1330.4,433.42 1328.4,433.15 1326.4,432.87 1324.4,432.58 1322.4,432.30 1320.4,432.00 1318.4,431.71 1316.4,431.41 1314.4,431.11 1312.4,430.81 1310.4,430.50 1308.4,430.19 1306.4,429.87 1304.4,429.55 1302.4,429.23 1300.4,428.91 1298.4,428.58 1296.4,428.24 1294.4,427.91 1292.4,427.57 1290.4,427.23 1288.4,426.88 1286.4,426.54 1284.4,426.18 1282.4,425.83 1280.4,425.47 1278.4,425.11 1276.4,424.74 1274.4,424.38 1272.4,424.01 1270.4,423.63 1268.4,423.25 1266.4,422.87 1264.3,422.49 1262.3,422.10 1260.3,421.71 1258.3,421.32 1256.3,420.92 1254.3,420.52 1252.3,420.12 1250.3,419.72 1248.3,419.31 1246.3,418.90 1244.3,418.49 1242.3,418.07 1240.3,417.65 1238.3,417.23 1236.3,416.81 1234.3,416.39 1232.3,415.96 1230.3,415.53 1228.3,415.10 1226.3,414.67 1224.3,414.23 1222.3,413.80 1220.3,413.36 1218.3,412.92 1216.3,412.48 1214.3,412.04 1212.3,411.60 1210.3,411.15 1208.3,410.71 1206.3,410.26 1204.3,409.81 1202.3,409.36 1200.3,408.91 1198.3,408.46 1196.3,408.01 1194.3,407.56 1192.3,407.11 1190.3,406.66 1188.3,406.21 1186.3,405.75 1184.3,405.30 1182.3,404.85 1180.3,404.40 1178.3,403.94 1176.3,403.49 1174.3,403.04 1172.3,402.59 1170.3,402.13 1168.3,401.68 1166.3,401.23 1164.3,400.78 1162.3,400.33 1160.3,399.88 1158.3,399.43 1156.3,398.98 1154.3,398.53 1152.3,398.08 1150.3,397.64 1148.2,397.19 1146.2,396.74 1144.2,396.30 1142.2,395.85 1140.2,395.41 1138.2,394.96 1136.2,394.52 1134.2,394.08 1132.2,393.64 1130.2,393.20 1128.2,392.76 1126.2,392.32 1124.2,391.89 1122.2,391.45 1120.2,391.02 1118.2,390.59 1116.2,390.15 1114.2,389.72 1112.2,389.29 1110.2,388.87 1108.2,388.44 1106.2,388.02 1104.2,387.59 1102.2,387.17 1100.2,386.75 1098.2,386.33 1096.2,385.91 1094.2,385.50 1092.2,385.08 1090.2,384.67 1088.2,384.26 1086.2,383.85 1084.2,383.45 1082.2,383.04 1080.2,382.64 1078.2,382.24 1076.2,381.84 1074.2,381.44 1072.2,381.05 1070.2,380.65 1068.2,380.26 1066.2,379.88 1064.2,379.49 1062.2,379.11 1060.2,378.73 1058.2,378.36 1056.2,377.99 1054.2,377.62 1052.2,377.26 1050.2,376.90 1048.2,376.55 1046.2,376.20 1044.2,375.86 1042.2,375.52 1040.2,375.19 1038.2,374.87 1036.2,374.55 1034.2,374.23 1032.2,373.93 1030.1,373.63 1028.1,373.33 1026.1,373.05 1024.1,372.77 1022.1,372.50 1020.1,372.23 1018.1,371.97 1016.1,371.72 1014.1,371.47 1012.1,371.24 1010.1,371.00 1008.1,370.78 1006.1,370.56 1004.1,370.34 1002.1,370.14 1000.1,369.93 998.1,369.74 996.1,369.55 994.1,369.36 992.1,369.18 990.1,369.01 988.1,368.84 986.1,368.68 984.1,368.53 982.1,368.37 980.1,368.23 978.1,368.09 976.1,367.95 974.1,367.82 972.1,367.69 970.1,367.57 968.1,367.46 966.1,367.34 964.1,367.24 962.1,367.13 960.1,367.04 958.1,366.94 956.1,366.85 954.1,366.77 952.1,366.68 950.1,366.61 948.1,366.53 946.1,366.46 944.1,366.40 942.1,366.33 940.1,366.28 938.1,366.22 936.1,366.17 934.1,366.12 932.1,366.08 930.1,366.03 928.1,365.99 926.1,365.96 924.1,365.93 922.1,365.90 920.1,365.87 918.1,365.85 916.0,365.82 914.0,365.81 912.0,365.79 910.0,365.78 908.0,365.76 906.0,365.75 904.0,365.75 902.0,365.74 900.0,365.74 898.0,365.74 896.0,365.74 894.0,365.74 892.0,365.75 890.0,365.75 888.0,365.76 886.0,365.77 884.0,365.78 882.0,365.80 880.0,365.81 878.0,365.82 876.0,365.84 874.0,365.86 872.0,365.87 870.0,365.89 868.0,365.91 866.0,365.93 864.0,365.95 862.0,365.97 860.0,365.99 858.0,366.01 855.0,366.05"/>
</g>
<g id="labels">
<text class="s pl" x="66.9" y="75.4">(a)</text>
<text class="s pl" x="751.3" y="75.4">(b)</text>
<text class="t tick" text-anchor="end" x="143.9" y="73.9">0.8</text>
<text class="t tick" text-anchor="end" x="143.9" y="135.3">0.7</text>
<text class="t tick" text-anchor="end" x="143.9" y="196.8">0.6</text>
<text class="t tick" text-anchor="end" x="143.9" y="258.2">0.5</text>
<text class="t tick" text-anchor="end" x="143.9" y="319.6">0.4</text>
<text class="t tick" text-anchor="end" x="143.9" y="381.0">0.3</text>
<text class="t tick" text-anchor="end" x="143.9" y="442.5">0.2</text>
<text class="t tick" text-anchor="end" x="143.9" y="503.9">0.1</text>
<text class="t tick" text-anchor="end" x="848.9" y="72.9">0.8</text>
<text class="t tick" text-anchor="end" x="848.9" y="133.9">0.7</text>
<text class="t tick" text-anchor="end" x="848.9" y="194.9">0.6</text>
<text class="t tick" text-anchor="end" x="848.9" y="255.9">0.5</text>
<text class="t tick" text-anchor="end" x="848.9" y="316.9">0.4</text>
<text class="t tick" text-anchor="end" x="848.9" y="377.9">0.3</text>
<text class="t tick" text-anchor="end" x="848.9" y="438.9">0.2</text>
<text class="t tick" text-anchor="end" x="848.9" y="499.9">0.1</text>
<text class="t tick" text-anchor="middle" x="153.5" y="523">-0.10</text>
<text class="t tick" text-anchor="middle" x="299.8" y="523">-0.05</text>
<text class="t tick" text-anchor="middle" x="446.0" y="523">0.00</text>
<text class="t tick" text-anchor="middle" x="592.2" y="523">0.05</text>
<text class="t tick" text-anchor="middle" x="738.5" y="523">0.10</text>
<text class="t tick" text-anchor="middle" x="858.5" y="518">0.0</text>
<text class="t tick" text-anchor="middle" x="974.5" y="518">0.1</text>
<text class="t tick" text-anchor="middle" x="1090.5" y="518">0.2</text>
<text class="t tick" text-anchor="middle" x="1206.5" y="518">0.3</text>
<text class="t tick" text-anchor="middle" x="1322.5" y="518">0.4</text>
<text class="t tick" text-anchor="middle" x="1438.5" y="518">0.5</text>
<text class="t" font-size="23.5" text-anchor="middle" x="229.2" y="541">(110)</text>
<text class="t" font-size="23.5" text-anchor="middle" x="664" y="541">(100)</text>
<text class="t" font-size="22.8" text-anchor="middle" x="445.6" y="562.6">kx (<tspan class="s" font-size="23.5" textLength="25.6" lengthAdjust="spacingAndGlyphs">2π</tspan><tspan dx="-0.7">/a)</tspan></text>
<text class="t" font-size="22.8" text-anchor="middle" x="1148.4" y="549.7">kz (<tspan class="s" font-size="23.5" textLength="25.6" lengthAdjust="spacingAndGlyphs">2π</tspan><tspan dx="-0.7">/L)</tspan></text>
<text class="t" font-size="23.2" text-anchor="middle" transform="translate(87.7,286.3) rotate(-90)">Energy (eV)</text>
<text class="t" font-size="23.2" text-anchor="middle" transform="translate(801.6,283.3) rotate(-90)">Energy (eV)</text>
</g>
<g id="fix1" fill="#ffffff">
<rect x="133.0" y="502.0" width="4.55" height="3.0"/>
<rect x="140.24" y="502.0" width="3.76" height="3.0"/>
<rect x="838.0" y="498.0" width="4.55" height="3.0"/>
<rect x="845.24" y="498.0" width="3.76" height="3.0"/>
<rect x="154.0" y="521.0" width="4.55" height="3.0"/>
<rect x="161.24" y="521.0" width="3.76" height="3.0"/>
<rect x="735.0" y="521.0" width="5.31" height="3.0"/>
<rect x="743.0" y="521.0" width="4.0" height="3.0"/>
<rect x="977.0" y="516.0" width="4.8" height="3.0"/>
<rect x="984.47" y="516.0" width="4.53" height="3.0"/>
<rect x="210.0" y="538.0" width="5.74" height="4.0"/>
<rect x="219.0" y="538.0" width="4.0" height="4.0"/>
<rect x="222.0" y="538.0" width="5.49" height="4.0"/>
<rect x="230.69" y="538.0" width="5.31" height="4.0"/>
<rect x="644.0" y="538.0" width="5.98" height="4.0"/>
<rect x="653.2" y="538.0" width="4.8" height="4.0"/>
</g>
</svg></body></html>
